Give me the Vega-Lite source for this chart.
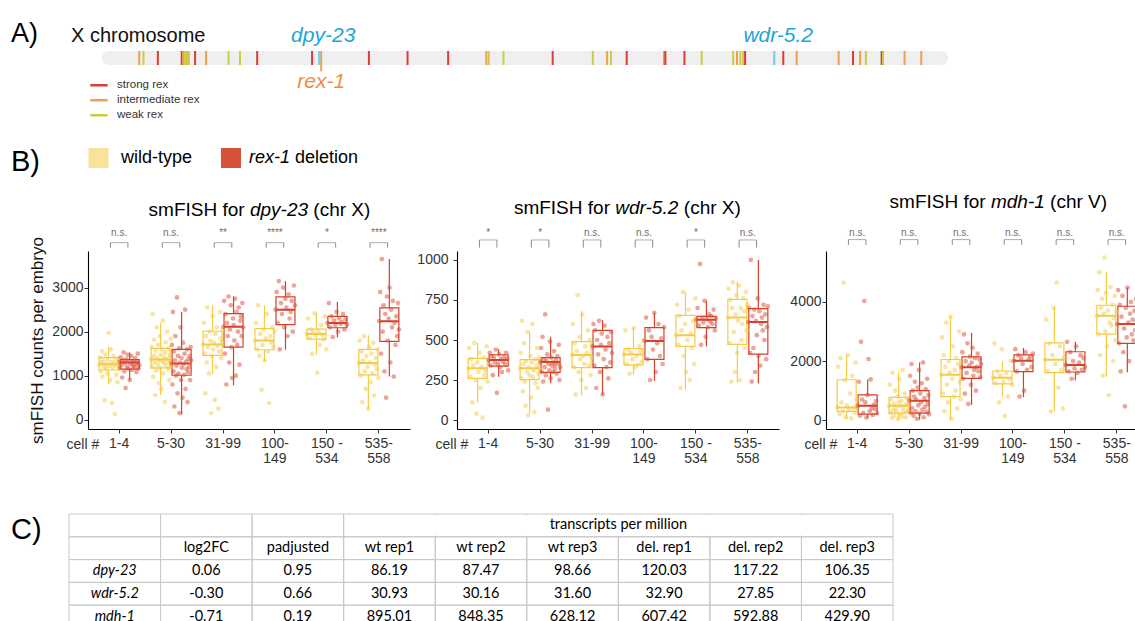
{
"$schema": "https://vega.github.io/schema/vega-lite/v6.json",
"padding": {"left": 10, "top": 19, "right": 0, "bottom": 0},
"background": "white",
"config": {"view": {"stroke": null}, "font": "Liberation Sans", "text": {"font": "Liberation Sans"}, "legend": {"labelFont": "Liberation Sans", "titleFont": "Liberation Sans"}},
"datasets": {
"panels": [{"p": "A)"}, {"p": "B)"}, {"p": "C)"}],
"legend": [{"t": "wt", "label": "wild-type", "rest": ""}, {"t": "del", "label": "rex-1", "rest": "deletion"}],
"chrom": [{"label": "X chromosome", "start": 0, "len": 17.72}],
"genes": [{"gene": "dpy-23", "pos": 4.55}, {"gene": "wdr-5.2", "pos": 14.08}],
"rex": [{"pos":0.78,"k":"intermediate"},{"pos":0.87,"k":"weak"},{"pos":1.17,"k":"strong"},{"pos":1.67,"k":"strong"},{"pos":1.70,"k":"intermediate"},{"pos":1.74,"k":"weak"},{"pos":1.78,"k":"weak"},{"pos":1.82,"k":"weak"},{"pos":1.95,"k":"strong"},{"pos":2.18,"k":"intermediate"},{"pos":2.65,"k":"weak"},{"pos":2.89,"k":"weak"},{"pos":3.25,"k":"strong"},{"pos":4.40,"k":"strong"},{"pos":4.59,"k":"intermediate","name":"rex-1"},{"pos":5.59,"k":"strong"},{"pos":6.40,"k":"strong"},{"pos":7.25,"k":"strong"},{"pos":8.05,"k":"intermediate"},{"pos":8.10,"k":"weak"},{"pos":8.41,"k":"weak"},{"pos":9.44,"k":"strong"},{"pos":10.28,"k":"weak"},{"pos":10.58,"k":"intermediate"},{"pos":10.66,"k":"weak"},{"pos":10.99,"k":"strong"},{"pos":11.77,"k":"intermediate"},{"pos":11.80,"k":"strong"},{"pos":12.20,"k":"strong"},{"pos":12.56,"k":"weak"},{"pos":13.22,"k":"weak"},{"pos":13.30,"k":"intermediate"},{"pos":13.37,"k":"weak"},{"pos":13.43,"k":"weak"},{"pos":13.47,"k":"strong"},{"pos":14.27,"k":"strong"},{"pos":14.55,"k":"intermediate"},{"pos":15.43,"k":"intermediate"},{"pos":15.73,"k":"strong"},{"pos":15.88,"k":"intermediate"},{"pos":16.00,"k":"weak"},{"pos":16.33,"k":"strong"},{"pos":16.36,"k":"weak"},{"pos":16.81,"k":"intermediate"},{"pos":17.16,"k":"intermediate"}],
"ttl": [{"g":"d","pre":"smFISH for","gene":"dpy-23","post":"(chr X)"},{"g":"w","pre":"smFISH for","gene":"wdr-5.2","post":"(chr X)"},{"g":"m","pre":"smFISH for","gene":"mdh-1","post":"(chr V)"}],
"sig": [{"g":"d","c":"1-4","s":"n.s."},{"g":"d","c":"5-30","s":"n.s."},{"g":"d","c":"31-99","s":"**"},{"g":"d","c":"100-149","s":"****"},{"g":"d","c":"150-534","s":"*"},{"g":"d","c":"535-558","s":"****"},
{"g":"w","c":"1-4","s":"*"},{"g":"w","c":"5-30","s":"*"},{"g":"w","c":"31-99","s":"n.s."},{"g":"w","c":"100-149","s":"n.s."},{"g":"w","c":"150-534","s":"*"},{"g":"w","c":"535-558","s":"n.s."},
{"g":"m","c":"1-4","s":"n.s."},{"g":"m","c":"5-30","s":"n.s."},{"g":"m","c":"31-99","s":"n.s."},{"g":"m","c":"100-149","s":"n.s."},{"g":"m","c":"150-534","s":"n.s."},{"g":"m","c":"535-558","s":"n.s."}],
"box": [
{"g":"d","c":"1-4","t":"wt","lo":800,"q1":1130,"md":1260,"q3":1410,"hi":1650},
{"g":"d","c":"1-4","t":"del","lo":900,"q1":1150,"md":1300,"q3":1365,"hi":1530},
{"g":"d","c":"5-30","t":"wt","lo":560,"q1":1180,"md":1370,"q3":1620,"hi":2200},
{"g":"d","c":"5-30","t":"del","lo":120,"q1":1010,"md":1280,"q3":1600,"hi":2450},
{"g":"d","c":"31-99","t":"wt","lo":1040,"q1":1460,"md":1710,"q3":2010,"hi":2600},
{"g":"d","c":"31-99","t":"del","lo":780,"q1":1650,"md":2110,"q3":2410,"hi":2800},
{"g":"d","c":"100-149","t":"wt","lo":1330,"q1":1590,"md":1800,"q3":2070,"hi":2600},
{"g":"d","c":"100-149","t":"del","lo":1590,"q1":2160,"md":2500,"q3":2790,"hi":3150},
{"g":"d","c":"150-534","t":"wt","lo":1480,"q1":1830,"md":1950,"q3":2060,"hi":2420},
{"g":"d","c":"150-534","t":"del","lo":1870,"q1":2090,"md":2200,"q3":2350,"hi":2680},
{"g":"d","c":"535-558","t":"wt","lo":250,"q1":1020,"md":1290,"q3":1600,"hi":1920},
{"g":"d","c":"535-558","t":"del","lo":980,"q1":1780,"md":2240,"q3":2540,"hi":3650},
{"g":"w","c":"1-4","t":"wt","lo":110,"q1":260,"md":323,"q3":385,"hi":483},
{"g":"w","c":"1-4","t":"del","lo":270,"q1":337,"md":375,"q3":408,"hi":442},
{"g":"w","c":"5-30","t":"wt","lo":40,"q1":252,"md":323,"q3":377,"hi":550},
{"g":"w","c":"5-30","t":"del","lo":230,"q1":298,"md":362,"q3":390,"hi":520},
{"g":"w","c":"31-99","t":"wt","lo":155,"q1":327,"md":406,"q3":490,"hi":680},
{"g":"w","c":"31-99","t":"del","lo":160,"q1":327,"md":460,"q3":560,"hi":625},
{"g":"w","c":"100-149","t":"wt","lo":285,"q1":344,"md":410,"q3":446,"hi":575},
{"g":"w","c":"100-149","t":"del","lo":245,"q1":379,"md":494,"q3":577,"hi":670},
{"g":"w","c":"150-534","t":"wt","lo":190,"q1":460,"md":529,"q3":654,"hi":800},
{"g":"w","c":"150-534","t":"del","lo":460,"q1":577,"md":627,"q3":648,"hi":745},
{"g":"w","c":"535-558","t":"wt","lo":235,"q1":473,"md":640,"q3":754,"hi":865},
{"g":"w","c":"535-558","t":"del","lo":230,"q1":412,"md":612,"q3":696,"hi":1000},
{"g":"m","c":"1-4","t":"wt","lo":50,"q1":296,"md":433,"q3":1368,"hi":2200},
{"g":"m","c":"1-4","t":"del","lo":70,"q1":205,"md":490,"q3":855,"hi":1380},
{"g":"m","c":"5-30","t":"wt","lo":30,"q1":239,"md":490,"q3":775,"hi":1650},
{"g":"m","c":"5-30","t":"del","lo":20,"q1":239,"md":661,"q3":1003,"hi":1950},
{"g":"m","c":"31-99","t":"wt","lo":0,"q1":798,"md":1539,"q3":2052,"hi":3530},
{"g":"m","c":"31-99","t":"del","lo":520,"q1":1414,"md":1790,"q3":2143,"hi":2950},
{"g":"m","c":"100-149","t":"wt","lo":800,"q1":1231,"md":1436,"q3":1664,"hi":2000},
{"g":"m","c":"100-149","t":"del","lo":780,"q1":1642,"md":2006,"q3":2212,"hi":2440},
{"g":"m","c":"150-534","t":"wt","lo":300,"q1":1607,"md":2041,"q3":2611,"hi":3820},
{"g":"m","c":"150-534","t":"del","lo":1350,"q1":1630,"md":1870,"q3":2314,"hi":2650},
{"g":"m","c":"535-558","t":"wt","lo":1480,"q1":2907,"md":3534,"q3":3887,"hi":5000},
{"g":"m","c":"535-558","t":"del","lo":1620,"q1":2599,"md":3249,"q3":3853,"hi":4480}
],
"pts": [
{"g":"d","c":"1-4","t":"wt","v":1250},{"g":"d","c":"1-4","t":"wt","v":1420},{"g":"d","c":"1-4","t":"wt","v":1100},{"g":"d","c":"1-4","t":"wt","v":1300},{"g":"d","c":"1-4","t":"wt","v":1560},{"g":"d","c":"1-4","t":"wt","v":980},{"g":"d","c":"1-4","t":"wt","v":1340},{"g":"d","c":"1-4","t":"wt","v":1200},{"g":"d","c":"1-4","t":"wt","v":440},{"g":"d","c":"1-4","t":"wt","v":1480},{"g":"d","c":"1-4","t":"wt","v":1160},{"g":"d","c":"1-4","t":"wt","v":1280},{"g":"d","c":"1-4","t":"wt","v":1050},{"g":"d","c":"1-4","t":"wt","v":1380},{"g":"d","c":"1-4","t":"wt","v":1970},{"g":"d","c":"1-4","t":"wt","v":1220},{"g":"d","c":"1-4","t":"wt","v":900},{"g":"d","c":"1-4","t":"wt","v":1600},{"g":"d","c":"1-4","t":"wt","v":1310},{"g":"d","c":"1-4","t":"wt","v":380},{"g":"d","c":"1-4","t":"wt","v":1180},{"g":"d","c":"1-4","t":"wt","v":1450},{"g":"d","c":"1-4","t":"wt","v":1270},{"g":"d","c":"1-4","t":"wt","v":130},{"g":"d","c":"1-4","t":"wt","v":1350},{"g":"d","c":"1-4","t":"wt","v":1020},{"g":"d","c":"1-4","t":"wt","v":1240},{"g":"d","c":"1-4","t":"wt","v":850},{"g":"d","c":"1-4","t":"wt","v":1400},{"g":"d","c":"1-4","t":"wt","v":1150},
{"g":"d","c":"1-4","t":"del","v":1310},{"g":"d","c":"1-4","t":"del","v":1180},{"g":"d","c":"1-4","t":"del","v":1420},{"g":"d","c":"1-4","t":"del","v":1250},{"g":"d","c":"1-4","t":"del","v":960},{"g":"d","c":"1-4","t":"del","v":1350},{"g":"d","c":"1-4","t":"del","v":1530},{"g":"d","c":"1-4","t":"del","v":1100},{"g":"d","c":"1-4","t":"del","v":1290},{"g":"d","c":"1-4","t":"del","v":720},{"g":"d","c":"1-4","t":"del","v":1380},{"g":"d","c":"1-4","t":"del","v":1200},{"g":"d","c":"1-4","t":"del","v":1480},{"g":"d","c":"1-4","t":"del","v":1160},{"g":"d","c":"1-4","t":"del","v":1330},{"g":"d","c":"1-4","t":"del","v":900},{"g":"d","c":"1-4","t":"del","v":1270},{"g":"d","c":"1-4","t":"del","v":1450},{"g":"d","c":"1-4","t":"del","v":1130},{"g":"d","c":"1-4","t":"del","v":1300},{"g":"d","c":"1-4","t":"del","v":1220},{"g":"d","c":"1-4","t":"del","v":1340},{"g":"d","c":"1-4","t":"del","v":1190},{"g":"d","c":"1-4","t":"del","v":1400},{"g":"d","c":"1-4","t":"del","v":1260},{"g":"d","c":"1-4","t":"del","v":1080},{"g":"d","c":"1-4","t":"del","v":1310},{"g":"d","c":"1-4","t":"del","v":1500},{"g":"d","c":"1-4","t":"del","v":1170},{"g":"d","c":"1-4","t":"del","v":1240},
{"g":"d","c":"5-30","t":"wt","v":1370},{"g":"d","c":"5-30","t":"wt","v":1650},{"g":"d","c":"5-30","t":"wt","v":1200},{"g":"d","c":"5-30","t":"wt","v":2400},{"g":"d","c":"5-30","t":"wt","v":980},{"g":"d","c":"5-30","t":"wt","v":1450},{"g":"d","c":"5-30","t":"wt","v":1820},{"g":"d","c":"5-30","t":"wt","v":1300},{"g":"d","c":"5-30","t":"wt","v":560},{"g":"d","c":"5-30","t":"wt","v":1560},{"g":"d","c":"5-30","t":"wt","v":1120},{"g":"d","c":"5-30","t":"wt","v":2100},{"g":"d","c":"5-30","t":"wt","v":1400},{"g":"d","c":"5-30","t":"wt","v":1250},{"g":"d","c":"5-30","t":"wt","v":1700},{"g":"d","c":"5-30","t":"wt","v":830},{"g":"d","c":"5-30","t":"wt","v":1350},{"g":"d","c":"5-30","t":"wt","v":1900},{"g":"d","c":"5-30","t":"wt","v":1180},{"g":"d","c":"5-30","t":"wt","v":1480},{"g":"d","c":"5-30","t":"wt","v":700},{"g":"d","c":"5-30","t":"wt","v":1600},{"g":"d","c":"5-30","t":"wt","v":1330},{"g":"d","c":"5-30","t":"wt","v":2250},{"g":"d","c":"5-30","t":"wt","v":1050},{"g":"d","c":"5-30","t":"wt","v":1420},{"g":"d","c":"5-30","t":"wt","v":1280},{"g":"d","c":"5-30","t":"wt","v":400},{"g":"d","c":"5-30","t":"wt","v":1530},{"g":"d","c":"5-30","t":"wt","v":1760},{"g":"d","c":"5-30","t":"wt","v":1230},{"g":"d","c":"5-30","t":"wt","v":1380},{"g":"d","c":"5-30","t":"wt","v":2000},{"g":"d","c":"5-30","t":"wt","v":1150},{"g":"d","c":"5-30","t":"wt","v":1620},{"g":"d","c":"5-30","t":"wt","v":1310},{"g":"d","c":"5-30","t":"wt","v":900},{"g":"d","c":"5-30","t":"wt","v":1470},{"g":"d","c":"5-30","t":"wt","v":1200},{"g":"d","c":"5-30","t":"wt","v":1840},
{"g":"d","c":"5-30","t":"del","v":1280},{"g":"d","c":"5-30","t":"del","v":1700},{"g":"d","c":"5-30","t":"del","v":800},{"g":"d","c":"5-30","t":"del","v":2450},{"g":"d","c":"5-30","t":"del","v":1100},{"g":"d","c":"5-30","t":"del","v":1550},{"g":"d","c":"5-30","t":"del","v":300},{"g":"d","c":"5-30","t":"del","v":1350},{"g":"d","c":"5-30","t":"del","v":1900},{"g":"d","c":"5-30","t":"del","v":1000},{"g":"d","c":"5-30","t":"del","v":1230},{"g":"d","c":"5-30","t":"del","v":2780},{"g":"d","c":"5-30","t":"del","v":600},{"g":"d","c":"5-30","t":"del","v":1450},{"g":"d","c":"5-30","t":"del","v":1050},{"g":"d","c":"5-30","t":"del","v":1620},{"g":"d","c":"5-30","t":"del","v":150},{"g":"d","c":"5-30","t":"del","v":1300},{"g":"d","c":"5-30","t":"del","v":2100},{"g":"d","c":"5-30","t":"del","v":900},{"g":"d","c":"5-30","t":"del","v":1400},{"g":"d","c":"5-30","t":"del","v":1180},{"g":"d","c":"5-30","t":"del","v":500},{"g":"d","c":"5-30","t":"del","v":1750},{"g":"d","c":"5-30","t":"del","v":1260},{"g":"d","c":"5-30","t":"del","v":1020},{"g":"d","c":"5-30","t":"del","v":1500},{"g":"d","c":"5-30","t":"del","v":2500},{"g":"d","c":"5-30","t":"del","v":700},{"g":"d","c":"5-30","t":"del","v":1320},{"g":"d","c":"5-30","t":"del","v":1150},{"g":"d","c":"5-30","t":"del","v":1600},{"g":"d","c":"5-30","t":"del","v":400},{"g":"d","c":"5-30","t":"del","v":1080},{"g":"d","c":"5-30","t":"del","v":1380},{"g":"d","c":"5-30","t":"del","v":1200},{"g":"d","c":"5-30","t":"del","v":1450},{"g":"d","c":"5-30","t":"del","v":900},{"g":"d","c":"5-30","t":"del","v":1650},{"g":"d","c":"5-30","t":"del","v":1350},
{"g":"d","c":"31-99","t":"wt","v":1710},{"g":"d","c":"31-99","t":"wt","v":2200},{"g":"d","c":"31-99","t":"wt","v":1500},{"g":"d","c":"31-99","t":"wt","v":600},{"g":"d","c":"31-99","t":"wt","v":1900},{"g":"d","c":"31-99","t":"wt","v":1300},{"g":"d","c":"31-99","t":"wt","v":2550},{"g":"d","c":"31-99","t":"wt","v":1650},{"g":"d","c":"31-99","t":"wt","v":1050},{"g":"d","c":"31-99","t":"wt","v":2000},{"g":"d","c":"31-99","t":"wt","v":1800},{"g":"d","c":"31-99","t":"wt","v":150},{"g":"d","c":"31-99","t":"wt","v":1450},{"g":"d","c":"31-99","t":"wt","v":2350},{"g":"d","c":"31-99","t":"wt","v":1600},{"g":"d","c":"31-99","t":"wt","v":1750},{"g":"d","c":"31-99","t":"wt","v":450},{"g":"d","c":"31-99","t":"wt","v":1950},{"g":"d","c":"31-99","t":"wt","v":1200},{"g":"d","c":"31-99","t":"wt","v":2100},{"g":"d","c":"31-99","t":"wt","v":1680},{"g":"d","c":"31-99","t":"wt","v":250},{"g":"d","c":"31-99","t":"wt","v":1550},{"g":"d","c":"31-99","t":"wt","v":2450},{"g":"d","c":"31-99","t":"wt","v":1850},{"g":"d","c":"31-99","t":"wt","v":1400},{"g":"d","c":"31-99","t":"wt","v":1760},{"g":"d","c":"31-99","t":"wt","v":2050},
{"g":"d","c":"31-99","t":"del","v":2110},{"g":"d","c":"31-99","t":"del","v":2700},{"g":"d","c":"31-99","t":"del","v":1500},{"g":"d","c":"31-99","t":"del","v":2400},{"g":"d","c":"31-99","t":"del","v":800},{"g":"d","c":"31-99","t":"del","v":2200},{"g":"d","c":"31-99","t":"del","v":1900},{"g":"d","c":"31-99","t":"del","v":2800},{"g":"d","c":"31-99","t":"del","v":1300},{"g":"d","c":"31-99","t":"del","v":2050},{"g":"d","c":"31-99","t":"del","v":2600},{"g":"d","c":"31-99","t":"del","v":1650},{"g":"d","c":"31-99","t":"del","v":950},{"g":"d","c":"31-99","t":"del","v":2300},{"g":"d","c":"31-99","t":"del","v":2150},{"g":"d","c":"31-99","t":"del","v":1800},{"g":"d","c":"31-99","t":"del","v":2750},{"g":"d","c":"31-99","t":"del","v":1000},{"g":"d","c":"31-99","t":"del","v":2450},{"g":"d","c":"31-99","t":"del","v":1700},{"g":"d","c":"31-99","t":"del","v":2000},{"g":"d","c":"31-99","t":"del","v":2550},{"g":"d","c":"31-99","t":"del","v":1250},{"g":"d","c":"31-99","t":"del","v":2250},{"g":"d","c":"31-99","t":"del","v":2350},{"g":"d","c":"31-99","t":"del","v":1900},{"g":"d","c":"31-99","t":"del","v":2650},{"g":"d","c":"31-99","t":"del","v":2100},
{"g":"d","c":"100-149","t":"wt","v":1800},{"g":"d","c":"100-149","t":"wt","v":2200},{"g":"d","c":"100-149","t":"wt","v":1600},{"g":"d","c":"100-149","t":"wt","v":2600},{"g":"d","c":"100-149","t":"wt","v":1450},{"g":"d","c":"100-149","t":"wt","v":1950},{"g":"d","c":"100-149","t":"wt","v":680},{"g":"d","c":"100-149","t":"wt","v":1700},{"g":"d","c":"100-149","t":"wt","v":2050},{"g":"d","c":"100-149","t":"wt","v":1350},{"g":"d","c":"100-149","t":"wt","v":1850},{"g":"d","c":"100-149","t":"wt","v":2400},{"g":"d","c":"100-149","t":"wt","v":1550},{"g":"d","c":"100-149","t":"wt","v":380},{"g":"d","c":"100-149","t":"wt","v":1900},{"g":"d","c":"100-149","t":"wt","v":1750},{"g":"d","c":"100-149","t":"wt","v":2100},{"g":"d","c":"100-149","t":"wt","v":1650},{"g":"d","c":"100-149","t":"wt","v":2000},
{"g":"d","c":"100-149","t":"del","v":2500},{"g":"d","c":"100-149","t":"del","v":2900},{"g":"d","c":"100-149","t":"del","v":2200},{"g":"d","c":"100-149","t":"del","v":3150},{"g":"d","c":"100-149","t":"del","v":1600},{"g":"d","c":"100-149","t":"del","v":2650},{"g":"d","c":"100-149","t":"del","v":2400},{"g":"d","c":"100-149","t":"del","v":3000},{"g":"d","c":"100-149","t":"del","v":2100},{"g":"d","c":"100-149","t":"del","v":2750},{"g":"d","c":"100-149","t":"del","v":2550},{"g":"d","c":"100-149","t":"del","v":1900},{"g":"d","c":"100-149","t":"del","v":2850},{"g":"d","c":"100-149","t":"del","v":2300},{"g":"d","c":"100-149","t":"del","v":2450},{"g":"d","c":"100-149","t":"del","v":2700},{"g":"d","c":"100-149","t":"del","v":2000},{"g":"d","c":"100-149","t":"del","v":3050},{"g":"d","c":"100-149","t":"del","v":2600},
{"g":"d","c":"150-534","t":"wt","v":1950},{"g":"d","c":"150-534","t":"wt","v":2300},{"g":"d","c":"150-534","t":"wt","v":1850},{"g":"d","c":"150-534","t":"wt","v":2050},{"g":"d","c":"150-534","t":"wt","v":1500},{"g":"d","c":"150-534","t":"wt","v":1980},{"g":"d","c":"150-534","t":"wt","v":2420},{"g":"d","c":"150-534","t":"wt","v":1900},{"g":"d","c":"150-534","t":"wt","v":1070},{"g":"d","c":"150-534","t":"wt","v":2000},{"g":"d","c":"150-534","t":"wt","v":1700},{"g":"d","c":"150-534","t":"wt","v":2150},{"g":"d","c":"150-534","t":"wt","v":1930},{"g":"d","c":"150-534","t":"wt","v":1820},{"g":"d","c":"150-534","t":"wt","v":2350},{"g":"d","c":"150-534","t":"wt","v":1600},
{"g":"d","c":"150-534","t":"del","v":2200},{"g":"d","c":"150-534","t":"del","v":2650},{"g":"d","c":"150-534","t":"del","v":2100},{"g":"d","c":"150-534","t":"del","v":2350},{"g":"d","c":"150-534","t":"del","v":1880},{"g":"d","c":"150-534","t":"del","v":2250},{"g":"d","c":"150-534","t":"del","v":2150},{"g":"d","c":"150-534","t":"del","v":2450},{"g":"d","c":"150-534","t":"del","v":2000},{"g":"d","c":"150-534","t":"del","v":2300},{"g":"d","c":"150-534","t":"del","v":2180},{"g":"d","c":"150-534","t":"del","v":2220},{"g":"d","c":"150-534","t":"del","v":2400},{"g":"d","c":"150-534","t":"del","v":2050},{"g":"d","c":"150-534","t":"del","v":2280},{"g":"d","c":"150-534","t":"del","v":2160},
{"g":"d","c":"535-558","t":"wt","v":1290},{"g":"d","c":"535-558","t":"wt","v":1800},{"g":"d","c":"535-558","t":"wt","v":1000},{"g":"d","c":"535-558","t":"wt","v":1550},{"g":"d","c":"535-558","t":"wt","v":400},{"g":"d","c":"535-558","t":"wt","v":1350},{"g":"d","c":"535-558","t":"wt","v":1900},{"g":"d","c":"535-558","t":"wt","v":1100},{"g":"d","c":"535-558","t":"wt","v":700},{"g":"d","c":"535-558","t":"wt","v":1450},{"g":"d","c":"535-558","t":"wt","v":1200},{"g":"d","c":"535-558","t":"wt","v":250},{"g":"d","c":"535-558","t":"wt","v":1650},{"g":"d","c":"535-558","t":"wt","v":1300},{"g":"d","c":"535-558","t":"wt","v":850},{"g":"d","c":"535-558","t":"wt","v":1500},{"g":"d","c":"535-558","t":"wt","v":1050},{"g":"d","c":"535-558","t":"wt","v":1750},{"g":"d","c":"535-558","t":"wt","v":550},{"g":"d","c":"535-558","t":"wt","v":1250},{"g":"d","c":"535-558","t":"wt","v":1400},{"g":"d","c":"535-558","t":"wt","v":1150},{"g":"d","c":"535-558","t":"wt","v":1600},{"g":"d","c":"535-558","t":"wt","v":950},
{"g":"d","c":"535-558","t":"del","v":2240},{"g":"d","c":"535-558","t":"del","v":2900},{"g":"d","c":"535-558","t":"del","v":1500},{"g":"d","c":"535-558","t":"del","v":3650},{"g":"d","c":"535-558","t":"del","v":2000},{"g":"d","c":"535-558","t":"del","v":2600},{"g":"d","c":"535-558","t":"del","v":1100},{"g":"d","c":"535-558","t":"del","v":2400},{"g":"d","c":"535-558","t":"del","v":500},{"g":"d","c":"535-558","t":"del","v":2800},{"g":"d","c":"535-558","t":"del","v":1800},{"g":"d","c":"535-558","t":"del","v":2300},{"g":"d","c":"535-558","t":"del","v":3000},{"g":"d","c":"535-558","t":"del","v":1300},{"g":"d","c":"535-558","t":"del","v":2500},{"g":"d","c":"535-558","t":"del","v":2100},{"g":"d","c":"535-558","t":"del","v":2700},{"g":"d","c":"535-558","t":"del","v":980},{"g":"d","c":"535-558","t":"del","v":2200},{"g":"d","c":"535-558","t":"del","v":1700},{"g":"d","c":"535-558","t":"del","v":2350},{"g":"d","c":"535-558","t":"del","v":1900},{"g":"d","c":"535-558","t":"del","v":2650},{"g":"d","c":"535-558","t":"del","v":2050},
{"g":"w","c":"1-4","t":"wt","v":323},{"g":"w","c":"1-4","t":"wt","v":450},{"g":"w","c":"1-4","t":"wt","v":270},{"g":"w","c":"1-4","t":"wt","v":380},{"g":"w","c":"1-4","t":"wt","v":110},{"g":"w","c":"1-4","t":"wt","v":340},{"g":"w","c":"1-4","t":"wt","v":480},{"g":"w","c":"1-4","t":"wt","v":250},{"g":"w","c":"1-4","t":"wt","v":40},{"g":"w","c":"1-4","t":"wt","v":360},{"g":"w","c":"1-4","t":"wt","v":300},{"g":"w","c":"1-4","t":"wt","v":420},{"g":"w","c":"1-4","t":"wt","v":200},{"g":"w","c":"1-4","t":"wt","v":330},{"g":"w","c":"1-4","t":"wt","v":15},{"g":"w","c":"1-4","t":"wt","v":390},{"g":"w","c":"1-4","t":"wt","v":280},{"g":"w","c":"1-4","t":"wt","v":310},{"g":"w","c":"1-4","t":"wt","v":460},{"g":"w","c":"1-4","t":"wt","v":240},
{"g":"w","c":"1-4","t":"del","v":375},{"g":"w","c":"1-4","t":"del","v":420},{"g":"w","c":"1-4","t":"del","v":340},{"g":"w","c":"1-4","t":"del","v":400},{"g":"w","c":"1-4","t":"del","v":280},{"g":"w","c":"1-4","t":"del","v":390},{"g":"w","c":"1-4","t":"del","v":360},{"g":"w","c":"1-4","t":"del","v":440},{"g":"w","c":"1-4","t":"del","v":170},{"g":"w","c":"1-4","t":"del","v":350},{"g":"w","c":"1-4","t":"del","v":410},{"g":"w","c":"1-4","t":"del","v":330},{"g":"w","c":"1-4","t":"del","v":380},{"g":"w","c":"1-4","t":"del","v":300},{"g":"w","c":"1-4","t":"del","v":365},{"g":"w","c":"1-4","t":"del","v":395},{"g":"w","c":"1-4","t":"del","v":350},{"g":"w","c":"1-4","t":"del","v":420},{"g":"w","c":"1-4","t":"del","v":385},{"g":"w","c":"1-4","t":"del","v":310},
{"g":"w","c":"5-30","t":"wt","v":323},{"g":"w","c":"5-30","t":"wt","v":420},{"g":"w","c":"5-30","t":"wt","v":260},{"g":"w","c":"5-30","t":"wt","v":620},{"g":"w","c":"5-30","t":"wt","v":180},{"g":"w","c":"5-30","t":"wt","v":350},{"g":"w","c":"5-30","t":"wt","v":480},{"g":"w","c":"5-30","t":"wt","v":240},{"g":"w","c":"5-30","t":"wt","v":90},{"g":"w","c":"5-30","t":"wt","v":370},{"g":"w","c":"5-30","t":"wt","v":300},{"g":"w","c":"5-30","t":"wt","v":550},{"g":"w","c":"5-30","t":"wt","v":30},{"g":"w","c":"5-30","t":"wt","v":330},{"g":"w","c":"5-30","t":"wt","v":280},{"g":"w","c":"5-30","t":"wt","v":400},{"g":"w","c":"5-30","t":"wt","v":140},{"g":"w","c":"5-30","t":"wt","v":360},{"g":"w","c":"5-30","t":"wt","v":600},{"g":"w","c":"5-30","t":"wt","v":270},{"g":"w","c":"5-30","t":"wt","v":310},{"g":"w","c":"5-30","t":"wt","v":50},{"g":"w","c":"5-30","t":"wt","v":380},{"g":"w","c":"5-30","t":"wt","v":230},{"g":"w","c":"5-30","t":"wt","v":340},{"g":"w","c":"5-30","t":"wt","v":450},{"g":"w","c":"5-30","t":"wt","v":200},{"g":"w","c":"5-30","t":"wt","v":290},{"g":"w","c":"5-30","t":"wt","v":390},{"g":"w","c":"5-30","t":"wt","v":320},
{"g":"w","c":"5-30","t":"del","v":362},{"g":"w","c":"5-30","t":"del","v":450},{"g":"w","c":"5-30","t":"del","v":300},{"g":"w","c":"5-30","t":"del","v":520},{"g":"w","c":"5-30","t":"del","v":240},{"g":"w","c":"5-30","t":"del","v":380},{"g":"w","c":"5-30","t":"del","v":330},{"g":"w","c":"5-30","t":"del","v":660},{"g":"w","c":"5-30","t":"del","v":280},{"g":"w","c":"5-30","t":"del","v":370},{"g":"w","c":"5-30","t":"del","v":410},{"g":"w","c":"5-30","t":"del","v":65},{"g":"w","c":"5-30","t":"del","v":350},{"g":"w","c":"5-30","t":"del","v":310},{"g":"w","c":"5-30","t":"del","v":490},{"g":"w","c":"5-30","t":"del","v":260},{"g":"w","c":"5-30","t":"del","v":390},{"g":"w","c":"5-30","t":"del","v":340},{"g":"w","c":"5-30","t":"del","v":360},{"g":"w","c":"5-30","t":"del","v":300},{"g":"w","c":"5-30","t":"del","v":430},{"g":"w","c":"5-30","t":"del","v":320},{"g":"w","c":"5-30","t":"del","v":345},{"g":"w","c":"5-30","t":"del","v":375},{"g":"w","c":"5-30","t":"del","v":290},{"g":"w","c":"5-30","t":"del","v":400},{"g":"w","c":"5-30","t":"del","v":355},{"g":"w","c":"5-30","t":"del","v":470},{"g":"w","c":"5-30","t":"del","v":250},{"g":"w","c":"5-30","t":"del","v":330},
{"g":"w","c":"31-99","t":"wt","v":406},{"g":"w","c":"31-99","t":"wt","v":600},{"g":"w","c":"31-99","t":"wt","v":330},{"g":"w","c":"31-99","t":"wt","v":480},{"g":"w","c":"31-99","t":"wt","v":160},{"g":"w","c":"31-99","t":"wt","v":430},{"g":"w","c":"31-99","t":"wt","v":780},{"g":"w","c":"31-99","t":"wt","v":300},{"g":"w","c":"31-99","t":"wt","v":520},{"g":"w","c":"31-99","t":"wt","v":380},{"g":"w","c":"31-99","t":"wt","v":250},{"g":"w","c":"31-99","t":"wt","v":660},{"g":"w","c":"31-99","t":"wt","v":400},{"g":"w","c":"31-99","t":"wt","v":350},{"g":"w","c":"31-99","t":"wt","v":460},{"g":"w","c":"31-99","t":"wt","v":200},{"g":"w","c":"31-99","t":"wt","v":420},{"g":"w","c":"31-99","t":"wt","v":560},{"g":"w","c":"31-99","t":"wt","v":340},{"g":"w","c":"31-99","t":"wt","v":500},{"g":"w","c":"31-99","t":"wt","v":280},{"g":"w","c":"31-99","t":"wt","v":390},
{"g":"w","c":"31-99","t":"del","v":460},{"g":"w","c":"31-99","t":"del","v":600},{"g":"w","c":"31-99","t":"del","v":340},{"g":"w","c":"31-99","t":"del","v":560},{"g":"w","c":"31-99","t":"del","v":200},{"g":"w","c":"31-99","t":"del","v":500},{"g":"w","c":"31-99","t":"del","v":410},{"g":"w","c":"31-99","t":"del","v":620},{"g":"w","c":"31-99","t":"del","v":300},{"g":"w","c":"31-99","t":"del","v":470},{"g":"w","c":"31-99","t":"del","v":540},{"g":"w","c":"31-99","t":"del","v":160},{"g":"w","c":"31-99","t":"del","v":380},{"g":"w","c":"31-99","t":"del","v":590},{"g":"w","c":"31-99","t":"del","v":440},{"g":"w","c":"31-99","t":"del","v":330},{"g":"w","c":"31-99","t":"del","v":520},{"g":"w","c":"31-99","t":"del","v":260},{"g":"w","c":"31-99","t":"del","v":480},{"g":"w","c":"31-99","t":"del","v":360},{"g":"w","c":"31-99","t":"del","v":550},{"g":"w","c":"31-99","t":"del","v":420},
{"g":"w","c":"100-149","t":"wt","v":410},{"g":"w","c":"100-149","t":"wt","v":560},{"g":"w","c":"100-149","t":"wt","v":350},{"g":"w","c":"100-149","t":"wt","v":440},{"g":"w","c":"100-149","t":"wt","v":290},{"g":"w","c":"100-149","t":"wt","v":420},{"g":"w","c":"100-149","t":"wt","v":380},{"g":"w","c":"100-149","t":"wt","v":575},{"g":"w","c":"100-149","t":"wt","v":330},{"g":"w","c":"100-149","t":"wt","v":400},{"g":"w","c":"100-149","t":"wt","v":345},{"g":"w","c":"100-149","t":"wt","v":460},{"g":"w","c":"100-149","t":"wt","v":430},{"g":"w","c":"100-149","t":"wt","v":365},{"g":"w","c":"100-149","t":"wt","v":500},
{"g":"w","c":"100-149","t":"del","v":494},{"g":"w","c":"100-149","t":"del","v":640},{"g":"w","c":"100-149","t":"del","v":380},{"g":"w","c":"100-149","t":"del","v":560},{"g":"w","c":"100-149","t":"del","v":250},{"g":"w","c":"100-149","t":"del","v":520},{"g":"w","c":"100-149","t":"del","v":440},{"g":"w","c":"100-149","t":"del","v":670},{"g":"w","c":"100-149","t":"del","v":300},{"g":"w","c":"100-149","t":"del","v":480},{"g":"w","c":"100-149","t":"del","v":600},{"g":"w","c":"100-149","t":"del","v":400},{"g":"w","c":"100-149","t":"del","v":510},{"g":"w","c":"100-149","t":"del","v":350},{"g":"w","c":"100-149","t":"del","v":580},
{"g":"w","c":"150-534","t":"wt","v":529},{"g":"w","c":"150-534","t":"wt","v":720},{"g":"w","c":"150-534","t":"wt","v":470},{"g":"w","c":"150-534","t":"wt","v":650},{"g":"w","c":"150-534","t":"wt","v":200},{"g":"w","c":"150-534","t":"wt","v":560},{"g":"w","c":"150-534","t":"wt","v":800},{"g":"w","c":"150-534","t":"wt","v":400},{"g":"w","c":"150-534","t":"wt","v":600},{"g":"w","c":"150-534","t":"wt","v":300},{"g":"w","c":"150-534","t":"wt","v":500},{"g":"w","c":"150-534","t":"wt","v":690},{"g":"w","c":"150-534","t":"wt","v":250},{"g":"w","c":"150-534","t":"wt","v":540},{"g":"w","c":"150-534","t":"wt","v":450},{"g":"w","c":"150-534","t":"wt","v":620},{"g":"w","c":"150-534","t":"wt","v":350},{"g":"w","c":"150-534","t":"wt","v":760},
{"g":"w","c":"150-534","t":"del","v":627},{"g":"w","c":"150-534","t":"del","v":700},{"g":"w","c":"150-534","t":"del","v":590},{"g":"w","c":"150-534","t":"del","v":975},{"g":"w","c":"150-534","t":"del","v":470},{"g":"w","c":"150-534","t":"del","v":640},{"g":"w","c":"150-534","t":"del","v":610},{"g":"w","c":"150-534","t":"del","v":745},{"g":"w","c":"150-534","t":"del","v":520},{"g":"w","c":"150-534","t":"del","v":630},{"g":"w","c":"150-534","t":"del","v":580},{"g":"w","c":"150-534","t":"del","v":660},{"g":"w","c":"150-534","t":"del","v":615},{"g":"w","c":"150-534","t":"del","v":650},{"g":"w","c":"150-534","t":"del","v":600},{"g":"w","c":"150-534","t":"del","v":690},{"g":"w","c":"150-534","t":"del","v":560},{"g":"w","c":"150-534","t":"del","v":635},
{"g":"w","c":"535-558","t":"wt","v":640},{"g":"w","c":"535-558","t":"wt","v":820},{"g":"w","c":"535-558","t":"wt","v":480},{"g":"w","c":"535-558","t":"wt","v":750},{"g":"w","c":"535-558","t":"wt","v":240},{"g":"w","c":"535-558","t":"wt","v":700},{"g":"w","c":"535-558","t":"wt","v":860},{"g":"w","c":"535-558","t":"wt","v":550},{"g":"w","c":"535-558","t":"wt","v":300},{"g":"w","c":"535-558","t":"wt","v":660},{"g":"w","c":"535-558","t":"wt","v":780},{"g":"w","c":"535-558","t":"wt","v":420},{"g":"w","c":"535-558","t":"wt","v":620},{"g":"w","c":"535-558","t":"wt","v":840},{"g":"w","c":"535-558","t":"wt","v":250},{"g":"w","c":"535-558","t":"wt","v":700},{"g":"w","c":"535-558","t":"wt","v":500},{"g":"w","c":"535-558","t":"wt","v":600},{"g":"w","c":"535-558","t":"wt","v":760},{"g":"w","c":"535-558","t":"wt","v":680},{"g":"w","c":"535-558","t":"wt","v":450},{"g":"w","c":"535-558","t":"wt","v":800},{"g":"w","c":"535-558","t":"wt","v":560},{"g":"w","c":"535-558","t":"wt","v":720},
{"g":"w","c":"535-558","t":"del","v":612},{"g":"w","c":"535-558","t":"del","v":700},{"g":"w","c":"535-558","t":"del","v":420},{"g":"w","c":"535-558","t":"del","v":1000},{"g":"w","c":"535-558","t":"del","v":240},{"g":"w","c":"535-558","t":"del","v":650},{"g":"w","c":"535-558","t":"del","v":450},{"g":"w","c":"535-558","t":"del","v":690},{"g":"w","c":"535-558","t":"del","v":300},{"g":"w","c":"535-558","t":"del","v":620},{"g":"w","c":"535-558","t":"del","v":530},{"g":"w","c":"535-558","t":"del","v":760},{"g":"w","c":"535-558","t":"del","v":400},{"g":"w","c":"535-558","t":"del","v":680},{"g":"w","c":"535-558","t":"del","v":340},{"g":"w","c":"535-558","t":"del","v":600},{"g":"w","c":"535-558","t":"del","v":640},{"g":"w","c":"535-558","t":"del","v":560},{"g":"w","c":"535-558","t":"del","v":720},{"g":"w","c":"535-558","t":"del","v":500},{"g":"w","c":"535-558","t":"del","v":660},{"g":"w","c":"535-558","t":"del","v":380},{"g":"w","c":"535-558","t":"del","v":580},{"g":"w","c":"535-558","t":"del","v":710},
{"g":"m","c":"1-4","t":"wt","v":433},{"g":"m","c":"1-4","t":"wt","v":1800},{"g":"m","c":"1-4","t":"wt","v":200},{"g":"m","c":"1-4","t":"wt","v":2100},{"g":"m","c":"1-4","t":"wt","v":600},{"g":"m","c":"1-4","t":"wt","v":300},{"g":"m","c":"1-4","t":"wt","v":4650},{"g":"m","c":"1-4","t":"wt","v":1350},{"g":"m","c":"1-4","t":"wt","v":100},{"g":"m","c":"1-4","t":"wt","v":500},{"g":"m","c":"1-4","t":"wt","v":2200},{"g":"m","c":"1-4","t":"wt","v":350},{"g":"m","c":"1-4","t":"wt","v":900},{"g":"m","c":"1-4","t":"wt","v":60},{"g":"m","c":"1-4","t":"wt","v":1500},{"g":"m","c":"1-4","t":"wt","v":420},{"g":"m","c":"1-4","t":"wt","v":250},{"g":"m","c":"1-4","t":"wt","v":1950},{"g":"m","c":"1-4","t":"wt","v":700},
{"g":"m","c":"1-4","t":"del","v":490},{"g":"m","c":"1-4","t":"del","v":1300},{"g":"m","c":"1-4","t":"del","v":150},{"g":"m","c":"1-4","t":"del","v":2650},{"g":"m","c":"1-4","t":"del","v":700},{"g":"m","c":"1-4","t":"del","v":250},{"g":"m","c":"1-4","t":"del","v":4030},{"g":"m","c":"1-4","t":"del","v":600},{"g":"m","c":"1-4","t":"del","v":90},{"g":"m","c":"1-4","t":"del","v":850},{"g":"m","c":"1-4","t":"del","v":2070},{"g":"m","c":"1-4","t":"del","v":300},{"g":"m","c":"1-4","t":"del","v":1380},{"g":"m","c":"1-4","t":"del","v":400},{"g":"m","c":"1-4","t":"del","v":180},{"g":"m","c":"1-4","t":"del","v":520},{"g":"m","c":"1-4","t":"del","v":380},{"g":"m","c":"1-4","t":"del","v":650},{"g":"m","c":"1-4","t":"del","v":240},
{"g":"m","c":"5-30","t":"wt","v":490},{"g":"m","c":"5-30","t":"wt","v":1200},{"g":"m","c":"5-30","t":"wt","v":250},{"g":"m","c":"5-30","t":"wt","v":700},{"g":"m","c":"5-30","t":"wt","v":80},{"g":"m","c":"5-30","t":"wt","v":1600},{"g":"m","c":"5-30","t":"wt","v":350},{"g":"m","c":"5-30","t":"wt","v":550},{"g":"m","c":"5-30","t":"wt","v":150},{"g":"m","c":"5-30","t":"wt","v":1000},{"g":"m","c":"5-30","t":"wt","v":420},{"g":"m","c":"5-30","t":"wt","v":300},{"g":"m","c":"5-30","t":"wt","v":800},{"g":"m","c":"5-30","t":"wt","v":40},{"g":"m","c":"5-30","t":"wt","v":600},{"g":"m","c":"5-30","t":"wt","v":1400},{"g":"m","c":"5-30","t":"wt","v":200},{"g":"m","c":"5-30","t":"wt","v":480},{"g":"m","c":"5-30","t":"wt","v":650},{"g":"m","c":"5-30","t":"wt","v":120},{"g":"m","c":"5-30","t":"wt","v":1700},{"g":"m","c":"5-30","t":"wt","v":380},{"g":"m","c":"5-30","t":"wt","v":260},{"g":"m","c":"5-30","t":"wt","v":900},{"g":"m","c":"5-30","t":"wt","v":520},{"g":"m","c":"5-30","t":"wt","v":100},{"g":"m","c":"5-30","t":"wt","v":750},{"g":"m","c":"5-30","t":"wt","v":320},{"g":"m","c":"5-30","t":"wt","v":560},{"g":"m","c":"5-30","t":"wt","v":280},
{"g":"m","c":"5-30","t":"del","v":661},{"g":"m","c":"5-30","t":"del","v":1500},{"g":"m","c":"5-30","t":"del","v":250},{"g":"m","c":"5-30","t":"del","v":1900},{"g":"m","c":"5-30","t":"del","v":400},{"g":"m","c":"5-30","t":"del","v":1000},{"g":"m","c":"5-30","t":"del","v":150},{"g":"m","c":"5-30","t":"del","v":800},{"g":"m","c":"5-30","t":"del","v":1300},{"g":"m","c":"5-30","t":"del","v":300},{"g":"m","c":"5-30","t":"del","v":700},{"g":"m","c":"5-30","t":"del","v":50},{"g":"m","c":"5-30","t":"del","v":1100},{"g":"m","c":"5-30","t":"del","v":500},{"g":"m","c":"5-30","t":"del","v":1700},{"g":"m","c":"5-30","t":"del","v":220},{"g":"m","c":"5-30","t":"del","v":900},{"g":"m","c":"5-30","t":"del","v":600},{"g":"m","c":"5-30","t":"del","v":1250},{"g":"m","c":"5-30","t":"del","v":350},{"g":"m","c":"5-30","t":"del","v":1950},{"g":"m","c":"5-30","t":"del","v":100},{"g":"m","c":"5-30","t":"del","v":750},{"g":"m","c":"5-30","t":"del","v":450},{"g":"m","c":"5-30","t":"del","v":1050},{"g":"m","c":"5-30","t":"del","v":280},{"g":"m","c":"5-30","t":"del","v":1400},{"g":"m","c":"5-30","t":"del","v":550},{"g":"m","c":"5-30","t":"del","v":850},{"g":"m","c":"5-30","t":"del","v":200},
{"g":"m","c":"31-99","t":"wt","v":1539},{"g":"m","c":"31-99","t":"wt","v":2800},{"g":"m","c":"31-99","t":"wt","v":900},{"g":"m","c":"31-99","t":"wt","v":2200},{"g":"m","c":"31-99","t":"wt","v":300},{"g":"m","c":"31-99","t":"wt","v":1800},{"g":"m","c":"31-99","t":"wt","v":3300},{"g":"m","c":"31-99","t":"wt","v":1200},{"g":"m","c":"31-99","t":"wt","v":600},{"g":"m","c":"31-99","t":"wt","v":2000},{"g":"m","c":"31-99","t":"wt","v":1600},{"g":"m","c":"31-99","t":"wt","v":3500},{"g":"m","c":"31-99","t":"wt","v":50},{"g":"m","c":"31-99","t":"wt","v":1400},{"g":"m","c":"31-99","t":"wt","v":2500},{"g":"m","c":"31-99","t":"wt","v":800},{"g":"m","c":"31-99","t":"wt","v":1700},{"g":"m","c":"31-99","t":"wt","v":1000},{"g":"m","c":"31-99","t":"wt","v":2100},{"g":"m","c":"31-99","t":"wt","v":400},{"g":"m","c":"31-99","t":"wt","v":1900},{"g":"m","c":"31-99","t":"wt","v":3000},{"g":"m","c":"31-99","t":"wt","v":1300},{"g":"m","c":"31-99","t":"wt","v":700},
{"g":"m","c":"31-99","t":"del","v":1790},{"g":"m","c":"31-99","t":"del","v":2300},{"g":"m","c":"31-99","t":"del","v":1400},{"g":"m","c":"31-99","t":"del","v":2900},{"g":"m","c":"31-99","t":"del","v":900},{"g":"m","c":"31-99","t":"del","v":2000},{"g":"m","c":"31-99","t":"del","v":1600},{"g":"m","c":"31-99","t":"del","v":2600},{"g":"m","c":"31-99","t":"del","v":550},{"g":"m","c":"31-99","t":"del","v":1850},{"g":"m","c":"31-99","t":"del","v":2150},{"g":"m","c":"31-99","t":"del","v":1200},{"g":"m","c":"31-99","t":"del","v":1950},{"g":"m","c":"31-99","t":"del","v":2450},{"g":"m","c":"31-99","t":"del","v":1500},{"g":"m","c":"31-99","t":"del","v":1700},{"g":"m","c":"31-99","t":"del","v":2100},{"g":"m","c":"31-99","t":"del","v":1000},{"g":"m","c":"31-99","t":"del","v":1800},{"g":"m","c":"31-99","t":"del","v":2250},{"g":"m","c":"31-99","t":"del","v":1650},{"g":"m","c":"31-99","t":"del","v":2050},{"g":"m","c":"31-99","t":"del","v":1450},{"g":"m","c":"31-99","t":"del","v":1900},
{"g":"m","c":"100-149","t":"wt","v":1436},{"g":"m","c":"100-149","t":"wt","v":2600},{"g":"m","c":"100-149","t":"wt","v":1250},{"g":"m","c":"100-149","t":"wt","v":1650},{"g":"m","c":"100-149","t":"wt","v":600},{"g":"m","c":"100-149","t":"wt","v":1500},{"g":"m","c":"100-149","t":"wt","v":2400},{"g":"m","c":"100-149","t":"wt","v":1300},{"g":"m","c":"100-149","t":"wt","v":150},{"g":"m","c":"100-149","t":"wt","v":1600},{"g":"m","c":"100-149","t":"wt","v":800},{"g":"m","c":"100-149","t":"wt","v":1400},{"g":"m","c":"100-149","t":"wt","v":2000},{"g":"m","c":"100-149","t":"wt","v":1200},
{"g":"m","c":"100-149","t":"del","v":2006},{"g":"m","c":"100-149","t":"del","v":2400},{"g":"m","c":"100-149","t":"del","v":1650},{"g":"m","c":"100-149","t":"del","v":2200},{"g":"m","c":"100-149","t":"del","v":800},{"g":"m","c":"100-149","t":"del","v":2100},{"g":"m","c":"100-149","t":"del","v":1900},{"g":"m","c":"100-149","t":"del","v":1000},{"g":"m","c":"100-149","t":"del","v":2300},{"g":"m","c":"100-149","t":"del","v":1700},{"g":"m","c":"100-149","t":"del","v":2050},{"g":"m","c":"100-149","t":"del","v":2150},{"g":"m","c":"100-149","t":"del","v":1800},{"g":"m","c":"100-149","t":"del","v":2250},
{"g":"m","c":"150-534","t":"wt","v":2041},{"g":"m","c":"150-534","t":"wt","v":3400},{"g":"m","c":"150-534","t":"wt","v":1650},{"g":"m","c":"150-534","t":"wt","v":2600},{"g":"m","c":"150-534","t":"wt","v":300},{"g":"m","c":"150-534","t":"wt","v":2200},{"g":"m","c":"150-534","t":"wt","v":3800},{"g":"m","c":"150-534","t":"wt","v":1900},{"g":"m","c":"150-534","t":"wt","v":4650},{"g":"m","c":"150-534","t":"wt","v":1100},{"g":"m","c":"150-534","t":"wt","v":2500},{"g":"m","c":"150-534","t":"wt","v":1700},{"g":"m","c":"150-534","t":"wt","v":400},{"g":"m","c":"150-534","t":"wt","v":2100},
{"g":"m","c":"150-534","t":"del","v":1870},{"g":"m","c":"150-534","t":"del","v":2650},{"g":"m","c":"150-534","t":"del","v":1650},{"g":"m","c":"150-534","t":"del","v":2300},{"g":"m","c":"150-534","t":"del","v":1400},{"g":"m","c":"150-534","t":"del","v":2000},{"g":"m","c":"150-534","t":"del","v":1750},{"g":"m","c":"150-534","t":"del","v":2500},{"g":"m","c":"150-534","t":"del","v":1600},{"g":"m","c":"150-534","t":"del","v":1950},{"g":"m","c":"150-534","t":"del","v":2200},{"g":"m","c":"150-534","t":"del","v":1700},{"g":"m","c":"150-534","t":"del","v":2100},{"g":"m","c":"150-534","t":"del","v":1800},
{"g":"m","c":"535-558","t":"wt","v":3534},{"g":"m","c":"535-558","t":"wt","v":4400},{"g":"m","c":"535-558","t":"wt","v":2900},{"g":"m","c":"535-558","t":"wt","v":5000},{"g":"m","c":"535-558","t":"wt","v":2200},{"g":"m","c":"535-558","t":"wt","v":3800},{"g":"m","c":"535-558","t":"wt","v":4100},{"g":"m","c":"535-558","t":"wt","v":1500},{"g":"m","c":"535-558","t":"wt","v":3600},{"g":"m","c":"535-558","t":"wt","v":5500},{"g":"m","c":"535-558","t":"wt","v":3000},{"g":"m","c":"535-558","t":"wt","v":4300},{"g":"m","c":"535-558","t":"wt","v":2500},{"g":"m","c":"535-558","t":"wt","v":3700},{"g":"m","c":"535-558","t":"wt","v":850},{"g":"m","c":"535-558","t":"wt","v":3300},{"g":"m","c":"535-558","t":"wt","v":4500},{"g":"m","c":"535-558","t":"wt","v":3200},{"g":"m","c":"535-558","t":"wt","v":3900},{"g":"m","c":"535-558","t":"wt","v":2000},{"g":"m","c":"535-558","t":"wt","v":3450},{"g":"m","c":"535-558","t":"wt","v":4200},{"g":"m","c":"535-558","t":"wt","v":2700},{"g":"m","c":"535-558","t":"wt","v":3650},
{"g":"m","c":"535-558","t":"del","v":3249},{"g":"m","c":"535-558","t":"del","v":4400},{"g":"m","c":"535-558","t":"del","v":2600},{"g":"m","c":"535-558","t":"del","v":3900},{"g":"m","c":"535-558","t":"del","v":1650},{"g":"m","c":"535-558","t":"del","v":3500},{"g":"m","c":"535-558","t":"del","v":4200},{"g":"m","c":"535-558","t":"del","v":2300},{"g":"m","c":"535-558","t":"del","v":3100},{"g":"m","c":"535-558","t":"del","v":470},{"g":"m","c":"535-558","t":"del","v":3800},{"g":"m","c":"535-558","t":"del","v":2800},{"g":"m","c":"535-558","t":"del","v":4480},{"g":"m","c":"535-558","t":"del","v":3300},{"g":"m","c":"535-558","t":"del","v":2000},{"g":"m","c":"535-558","t":"del","v":3600},{"g":"m","c":"535-558","t":"del","v":4000},{"g":"m","c":"535-558","t":"del","v":2900},{"g":"m","c":"535-558","t":"del","v":3400},{"g":"m","c":"535-558","t":"del","v":2700},{"g":"m","c":"535-558","t":"del","v":3700},{"g":"m","c":"535-558","t":"del","v":3050},{"g":"m","c":"535-558","t":"del","v":4100},{"g":"m","c":"535-558","t":"del","v":3350}
],
"tbl": [
{"r":"h1","c":"name","s":""},{"r":"h1","c":"log2FC","s":""},{"r":"h1","c":"padjusted","s":""},{"r":"h1","c":"wt rep1","s":""},{"r":"h1","c":"wt rep2","s":""},{"r":"h1","c":"wt rep3","s":""},{"r":"h1","c":"del. rep1","s":"transcripts per million"},{"r":"h1","c":"del. rep2","s":""},{"r":"h1","c":"del. rep3","s":""},
{"r":"h2","c":"name","s":""},{"r":"h2","c":"log2FC","s":"log2FC"},{"r":"h2","c":"padjusted","s":"padjusted"},{"r":"h2","c":"wt rep1","s":"wt rep1"},{"r":"h2","c":"wt rep2","s":"wt rep2"},{"r":"h2","c":"wt rep3","s":"wt rep3"},{"r":"h2","c":"del. rep1","s":"del. rep1"},{"r":"h2","c":"del. rep2","s":"del. rep2"},{"r":"h2","c":"del. rep3","s":"del. rep3"},
{"r":"dpy-23","c":"name","s":"dpy-23"},{"r":"dpy-23","c":"log2FC","s":"0.06"},{"r":"dpy-23","c":"padjusted","s":"0.95"},{"r":"dpy-23","c":"wt rep1","s":"86.19"},{"r":"dpy-23","c":"wt rep2","s":"87.47"},{"r":"dpy-23","c":"wt rep3","s":"98.66"},{"r":"dpy-23","c":"del. rep1","s":"120.03"},{"r":"dpy-23","c":"del. rep2","s":"117.22"},{"r":"dpy-23","c":"del. rep3","s":"106.35"},
{"r":"wdr-5.2","c":"name","s":"wdr-5.2"},{"r":"wdr-5.2","c":"log2FC","s":"-0.30"},{"r":"wdr-5.2","c":"padjusted","s":"0.66"},{"r":"wdr-5.2","c":"wt rep1","s":"30.93"},{"r":"wdr-5.2","c":"wt rep2","s":"30.16"},{"r":"wdr-5.2","c":"wt rep3","s":"31.60"},{"r":"wdr-5.2","c":"del. rep1","s":"32.90"},{"r":"wdr-5.2","c":"del. rep2","s":"27.85"},{"r":"wdr-5.2","c":"del. rep3","s":"22.30"},
{"r":"mdh-1","c":"name","s":"mdh-1"},{"r":"mdh-1","c":"log2FC","s":"-0.71"},{"r":"mdh-1","c":"padjusted","s":"0.19"},{"r":"mdh-1","c":"wt rep1","s":"895.01"},{"r":"mdh-1","c":"wt rep2","s":"848.35"},{"r":"mdh-1","c":"wt rep3","s":"628.12"},{"r":"mdh-1","c":"del. rep1","s":"607.42"},{"r":"mdh-1","c":"del. rep2","s":"592.88"},{"r":"mdh-1","c":"del. rep3","s":"429.90"}
]
},
"spacing": 48,
"resolve": {"scale": {"x": "independent", "y": "independent"}},
"vconcat": [
{
"spacing": 24,
"resolve": {"scale": {"x": "independent", "y": "independent", "color": "independent"}},
"vconcat": [
{
"width": 860, "height": 14,
"layer": [
{"data": {"name": "chrom"}, "mark": {"type": "rect", "fill": "#efefef", "cornerRadius": 7},
 "encoding": {"x": {"field": "start", "type": "quantitative", "scale": {"domain": [-0.2932, 17.72], "nice": false, "zero": false}, "axis": null}, "x2": {"field": "len"},
  "y": {"datum": 0, "type": "quantitative", "scale": {"domain": [0, 1], "nice": false, "zero": false}, "axis": null}, "y2": {"datum": 1}}},
{"data": {"name": "rex"}, "mark": {"type": "rule", "strokeWidth": 2},
 "encoding": {"x": {"field": "pos", "type": "quantitative", "scale": {"domain": [-0.2932, 17.72], "nice": false, "zero": false}, "axis": null},
  "y": {"datum": 0, "type": "quantitative", "scale": {"domain": [0, 1], "nice": false, "zero": false}, "axis": null}, "y2": {"datum": 1},
  "color": {"field": "k", "type": "nominal", "scale": {"domain": ["strong", "intermediate", "weak"], "range": ["#de3b32", "#f0a04b", "#cccc44"]},
   "legend": {"orient": "none", "legendX": 1, "legendY": 27, "title": null, "symbolType": "stroke", "symbolStrokeWidth": 2.5, "symbolSize": 300, "clipHeight": 14.5, "rowPadding": 0, "labelFontSize": 11.5, "labelColor": "#333", "labelOffset": 8, "labelExpr": "datum.label + ' rex'"}}}},
{"data": {"name": "rex"}, "transform": [{"filter": "datum.name == 'rex-1'"}], "mark": {"type": "rule", "strokeWidth": 2, "color": "#f0a04b"},
 "encoding": {"x": {"field": "pos", "type": "quantitative", "scale": {"domain": [-0.2932, 17.72], "nice": false, "zero": false}, "axis": null},
  "y": {"datum": 0, "type": "quantitative", "scale": {"domain": [0, 1], "nice": false, "zero": false}, "axis": null}, "y2": {"datum": -0.45}}},
{"data": {"name": "rex"}, "transform": [{"filter": "datum.name == 'rex-1'"}], "mark": {"type": "text", "fontSize": 21, "fontStyle": "italic", "color": "#ef8d3c", "baseline": "alphabetic"},
 "encoding": {"x": {"field": "pos", "type": "quantitative", "scale": {"domain": [-0.2932, 17.72], "nice": false, "zero": false}, "axis": null},
  "y": {"datum": -1.643, "type": "quantitative", "scale": {"domain": [0, 1], "nice": false, "zero": false}, "axis": null}, "text": {"field": "name"}}},
{"data": {"name": "genes"}, "mark": {"type": "rule", "strokeWidth": 2.2, "color": "#7fcde3"},
 "encoding": {"x": {"field": "pos", "type": "quantitative", "scale": {"domain": [-0.2932, 17.72], "nice": false, "zero": false}, "axis": null},
  "y": {"datum": 0, "type": "quantitative", "scale": {"domain": [0, 1], "nice": false, "zero": false}, "axis": null}, "y2": {"datum": 1}}},
{"data": {"name": "genes"}, "mark": {"type": "text", "fontSize": 21, "fontStyle": "italic", "color": "#1aa6d6", "baseline": "alphabetic", "dx": 4},
 "encoding": {"x": {"field": "pos", "type": "quantitative", "scale": {"domain": [-0.2932, 17.72], "nice": false, "zero": false}, "axis": null},
  "y": {"datum": 1.643, "type": "quantitative", "scale": {"domain": [0, 1], "nice": false, "zero": false}, "axis": null}, "text": {"field": "gene"}}},
{"data": {"name": "chrom"}, "mark": {"type": "text", "fontSize": 20, "align": "left", "baseline": "alphabetic", "dx": -31, "color": "#111"},
 "encoding": {"x": {"field": "start", "type": "quantitative", "scale": {"domain": [-0.2932, 17.72], "nice": false, "zero": false}, "axis": null},
  "y": {"datum": 1.643, "type": "quantitative", "scale": {"domain": [0, 1], "nice": false, "zero": false}, "axis": null}, "text": {"field": "label"}}},
{"data": {"name": "panels"}, "transform": [{"filter": "datum.p == 'A)'"}], "mark": {"type": "text", "fontSize": 27, "align": "left", "baseline": "alphabetic", "dx": -91, "color": "#000"},
 "encoding": {"x": {"datum": 0, "type": "quantitative", "scale": {"domain": [-0.2932, 17.72], "nice": false, "zero": false}, "axis": null},
  "y": {"datum": 1.643, "type": "quantitative", "scale": {"domain": [0, 1], "nice": false, "zero": false}, "axis": null}, "text": {"field": "p"}}}
]
},
{
"spacing": 47,
"bounds": "flush",
"resolve": {"scale": {"x": "independent", "y": "independent", "color": "independent"}},
"hconcat": [
{
"width": 322, "height": 178,
"layer": [
{"data": {"name": "box"}, "transform": [{"filter": "datum.g == 'd' && datum.t == 'wt'"}], "mark": {"type": "rule", "strokeWidth": 1.2, "xOffset": -10.5, "color": "#f4cc43"},
 "encoding": {
  "x": {"field": "c", "type": "nominal", "scale": {"type": "band", "domain": ["1-4","5-30","31-99","100-149","150-534","535-558"], "paddingInner": 0, "paddingOuter": 0.1},
   "axis": {"title": "cell #", "titleAlign": "left", "titleX": -22, "titleY": 15, "titleBaseline": "middle", "titleFontSize": 14, "titleFontWeight": "normal", "titleColor": "#333", "labelAngle": 0, "labelFontSize": 14, "labelBaseline": "top", "labelPadding": 3, "labelLineHeight": 15, "labelOverlap": false, "labelColor": "#333", "tickColor": "#333", "tickSize": 4, "domainColor": "#000", "domainWidth": 1.1,
    "labelExpr": "datum.value == '100-149' ? ['100-', '149'] : datum.value == '150-534' ? ['150 -', '534'] : datum.value == '535-558' ? ['535-', '558'] : datum.label"}},
  "y": {"field": "lo", "type": "quantitative", "scale": {"domain": [-211, 3834], "nice": false, "zero": false},
   "axis": {"values": [0, 1000, 2000, 3000], "format": "d", "title": "smFISH counts per embryo", "titleFontSize": 17, "titleFontWeight": "normal", "titleColor": "#111", "titlePadding": 5, "labelFontSize": 14, "labelPadding": 1, "labelColor": "#333", "tickColor": "#333", "tickSize": 4, "domainColor": "#000", "domainWidth": 1.1, "grid": false}},
  "y2": {"field": "hi"}}},
{"data": {"name": "box"}, "transform": [{"filter": "datum.g == 'd' && datum.t == 'del'"}], "mark": {"type": "rule", "strokeWidth": 1.2, "xOffset": 10.5, "color": "#d83f2a"},
 "encoding": {"x": {"field": "c", "type": "nominal", "scale": {"type": "band", "domain": ["1-4","5-30","31-99","100-149","150-534","535-558"], "paddingInner": 0, "paddingOuter": 0.1}},
  "y": {"field": "lo", "type": "quantitative", "scale": {"domain": [-211, 3834], "nice": false, "zero": false}}, "y2": {"field": "hi"}}},
{"data": {"name": "box"}, "transform": [{"filter": "datum.g == 'd' && datum.t == 'wt'"}], "mark": {"type": "rect", "fill": "white", "stroke": "#f4cc43", "strokeWidth": 1.2, "width": 19, "xOffset": -10.5},
 "encoding": {"x": {"field": "c", "type": "nominal", "scale": {"type": "band", "domain": ["1-4","5-30","31-99","100-149","150-534","535-558"], "paddingInner": 0, "paddingOuter": 0.1}},
  "y": {"field": "q1", "type": "quantitative", "scale": {"domain": [-211, 3834], "nice": false, "zero": false}}, "y2": {"field": "q3"}}},
{"data": {"name": "box"}, "transform": [{"filter": "datum.g == 'd' && datum.t == 'del'"}], "mark": {"type": "rect", "fill": "white", "stroke": "#d83f2a", "strokeWidth": 1.2, "width": 19, "xOffset": 10.5},
 "encoding": {"x": {"field": "c", "type": "nominal", "scale": {"type": "band", "domain": ["1-4","5-30","31-99","100-149","150-534","535-558"], "paddingInner": 0, "paddingOuter": 0.1}},
  "y": {"field": "q1", "type": "quantitative", "scale": {"domain": [-211, 3834], "nice": false, "zero": false}}, "y2": {"field": "q3"}}},
{"data": {"name": "box"}, "transform": [{"filter": "datum.g == 'd' && datum.t == 'wt'"}], "mark": {"type": "rect", "fillOpacity": 0, "stroke": "#f4cc43", "strokeWidth": 2, "width": 19, "xOffset": -10.5},
 "encoding": {"x": {"field": "c", "type": "nominal", "scale": {"type": "band", "domain": ["1-4","5-30","31-99","100-149","150-534","535-558"], "paddingInner": 0, "paddingOuter": 0.1}},
  "y": {"field": "md", "type": "quantitative", "scale": {"domain": [-211, 3834], "nice": false, "zero": false}}, "y2": {"field": "md"}}},
{"data": {"name": "box"}, "transform": [{"filter": "datum.g == 'd' && datum.t == 'del'"}], "mark": {"type": "rect", "fillOpacity": 0, "stroke": "#d83f2a", "strokeWidth": 2, "width": 19, "xOffset": 10.5},
 "encoding": {"x": {"field": "c", "type": "nominal", "scale": {"type": "band", "domain": ["1-4","5-30","31-99","100-149","150-534","535-558"], "paddingInner": 0, "paddingOuter": 0.1}},
  "y": {"field": "md", "type": "quantitative", "scale": {"domain": [-211, 3834], "nice": false, "zero": false}}, "y2": {"field": "md"}}},
{"data": {"name": "pts"}, "transform": [{"filter": "datum.g == 'd'"}, {"window": [{"op": "row_number", "as": "rn"}], "groupby": ["c", "t"]}, {"window": [{"op": "percent_rank", "as": "jx"}], "groupby": ["c"], "sort": [{"field": "t", "order": "descending"}, {"field": "rn", "order": "ascending"}]}],
 "mark": {"type": "circle", "size": 22, "opacity": 0.5},
 "encoding": {"x": {"field": "c", "type": "nominal", "scale": {"type": "band", "domain": ["1-4","5-30","31-99","100-149","150-534","535-558"], "paddingInner": 0, "paddingOuter": 0.1}},
  "xOffset": {"field": "jx", "type": "quantitative", "scale": {"domain": [0, 1], "range": [6, 46]}},
  "y": {"field": "v", "type": "quantitative", "scale": {"domain": [-211, 3834], "nice": false, "zero": false}},
  "color": {"field": "t", "type": "nominal", "scale": {"domain": ["wt", "del"], "range": ["#f3cb45", "#d94a30"]}, "legend": null}}},
{"data": {"name": "sig"}, "transform": [{"filter": "datum.g == 'd'"}], "mark": {"type": "rule", "color": "#8c8c8c", "strokeWidth": 1, "xOffset": -8.75},
 "encoding": {"x": {"field": "c", "type": "nominal", "scale": {"type": "band", "domain": ["1-4","5-30","31-99","100-149","150-534","535-558"], "paddingInner": 0, "paddingOuter": 0.1}},
  "y": {"datum": 4023, "type": "quantitative", "scale": {"domain": [-211, 3834], "nice": false, "zero": false}}, "y2": {"datum": 3909}}},
{"data": {"name": "sig"}, "transform": [{"filter": "datum.g == 'd'"}], "mark": {"type": "rule", "color": "#8c8c8c", "strokeWidth": 1, "xOffset": 8.75},
 "encoding": {"x": {"field": "c", "type": "nominal", "scale": {"type": "band", "domain": ["1-4","5-30","31-99","100-149","150-534","535-558"], "paddingInner": 0, "paddingOuter": 0.1}},
  "y": {"datum": 4023, "type": "quantitative", "scale": {"domain": [-211, 3834], "nice": false, "zero": false}}, "y2": {"datum": 3909}}},
{"data": {"name": "sig"}, "transform": [{"filter": "datum.g == 'd'"}], "mark": {"type": "tick", "color": "#8c8c8c", "size": 17.5, "thickness": 1},
 "encoding": {"x": {"field": "c", "type": "nominal", "scale": {"type": "band", "domain": ["1-4","5-30","31-99","100-149","150-534","535-558"], "paddingInner": 0, "paddingOuter": 0.1}},
  "y": {"datum": 4023, "type": "quantitative", "scale": {"domain": [-211, 3834], "nice": false, "zero": false}}}},
{"data": {"name": "sig"}, "transform": [{"filter": "datum.g == 'd'"}], "mark": {"type": "text", "fontSize": 10, "color": "#6e6e6e", "font": "Liberation Sans Narrow, Liberation Sans"},
 "encoding": {"x": {"field": "c", "type": "nominal", "scale": {"type": "band", "domain": ["1-4","5-30","31-99","100-149","150-534","535-558"], "paddingInner": 0, "paddingOuter": 0.1}},
  "y": {"datum": 4236, "type": "quantitative", "scale": {"domain": [-211, 3834], "nice": false, "zero": false}}, "text": {"field": "s"}}},
{"data": {"name": "ttl"}, "transform": [{"filter": "datum.g == 'd'"}], "mark": {"type": "text", "fontSize": 19, "align": "right", "dx": -30.3, "color": "#000"},
 "encoding": {"x": {"datum": "100-149", "type": "nominal", "scale": {"type": "band", "domain": ["1-4","5-30","31-99","100-149","150-534","535-558"], "paddingInner": 0, "paddingOuter": 0.1}},
  "y": {"datum": 4766, "type": "quantitative", "scale": {"domain": [-211, 3834], "nice": false, "zero": false}}, "text": {"field": "pre"}}},
{"data": {"name": "ttl"}, "transform": [{"filter": "datum.g == 'd'"}], "mark": {"type": "text", "fontSize": 19, "align": "left", "fontStyle": "italic", "dx": -25, "color": "#000"},
 "encoding": {"x": {"datum": "100-149", "type": "nominal", "scale": {"type": "band", "domain": ["1-4","5-30","31-99","100-149","150-534","535-558"], "paddingInner": 0, "paddingOuter": 0.1}},
  "y": {"datum": 4766, "type": "quantitative", "scale": {"domain": [-211, 3834], "nice": false, "zero": false}}, "text": {"field": "gene"}}},
{"data": {"name": "ttl"}, "transform": [{"filter": "datum.g == 'd'"}], "mark": {"type": "text", "fontSize": 19, "align": "left", "dx": 38.4, "color": "#000"},
 "encoding": {"x": {"datum": "100-149", "type": "nominal", "scale": {"type": "band", "domain": ["1-4","5-30","31-99","100-149","150-534","535-558"], "paddingInner": 0, "paddingOuter": 0.1}},
  "y": {"datum": 4766, "type": "quantitative", "scale": {"domain": [-211, 3834], "nice": false, "zero": false}}, "text": {"field": "post"}}},
{"data": {"name": "legend"}, "transform": [{"filter": "datum.t == 'wt'"}], "mark": {"type": "square", "size": 400, "opacity": 1, "color": "#f7e49a", "xOffset": -20.7},
 "encoding": {"x": {"datum": "1-4", "type": "nominal", "scale": {"type": "band", "domain": ["1-4","5-30","31-99","100-149","150-534","535-558"], "paddingInner": 0, "paddingOuter": 0.1}},
  "y": {"datum": 5948, "type": "quantitative", "scale": {"domain": [-211, 3834], "nice": false, "zero": false}}}},
{"data": {"name": "legend"}, "transform": [{"filter": "datum.t == 'del'"}], "mark": {"type": "square", "size": 400, "opacity": 1, "color": "#d7503b", "xOffset": 111.8},
 "encoding": {"x": {"datum": "1-4", "type": "nominal", "scale": {"type": "band", "domain": ["1-4","5-30","31-99","100-149","150-534","535-558"], "paddingInner": 0, "paddingOuter": 0.1}},
  "y": {"datum": 5948, "type": "quantitative", "scale": {"domain": [-211, 3834], "nice": false, "zero": false}}}},
{"data": {"name": "legend"}, "transform": [{"filter": "datum.t == 'wt'"}], "mark": {"type": "text", "fontSize": 18, "align": "left", "dx": 1.8, "color": "#000"},
 "encoding": {"x": {"datum": "1-4", "type": "nominal", "scale": {"type": "band", "domain": ["1-4","5-30","31-99","100-149","150-534","535-558"], "paddingInner": 0, "paddingOuter": 0.1}},
  "y": {"datum": 5948, "type": "quantitative", "scale": {"domain": [-211, 3834], "nice": false, "zero": false}}, "text": {"field": "label"}}},
{"data": {"name": "legend"}, "transform": [{"filter": "datum.t == 'del'"}], "mark": {"type": "text", "fontSize": 18, "align": "left", "fontStyle": "italic", "dx": 129.8, "color": "#000"},
 "encoding": {"x": {"datum": "1-4", "type": "nominal", "scale": {"type": "band", "domain": ["1-4","5-30","31-99","100-149","150-534","535-558"], "paddingInner": 0, "paddingOuter": 0.1}},
  "y": {"datum": 5948, "type": "quantitative", "scale": {"domain": [-211, 3834], "nice": false, "zero": false}}, "text": {"field": "label"}}},
{"data": {"name": "legend"}, "transform": [{"filter": "datum.t == 'del'"}], "mark": {"type": "text", "fontSize": 18, "align": "left", "dx": 175.8, "color": "#000"},
 "encoding": {"x": {"datum": "1-4", "type": "nominal", "scale": {"type": "band", "domain": ["1-4","5-30","31-99","100-149","150-534","535-558"], "paddingInner": 0, "paddingOuter": 0.1}},
  "y": {"datum": 5948, "type": "quantitative", "scale": {"domain": [-211, 3834], "nice": false, "zero": false}}, "text": {"field": "rest"}}},
{"data": {"name": "panels"}, "transform": [{"filter": "datum.p == 'B)'"}], "mark": {"type": "text", "fontSize": 29, "align": "left", "dx": -108.2, "color": "#000"},
 "encoding": {"x": {"datum": "1-4", "type": "nominal", "scale": {"type": "band", "domain": ["1-4","5-30","31-99","100-149","150-534","535-558"], "paddingInner": 0, "paddingOuter": 0.1}},
  "y": {"datum": 5857, "type": "quantitative", "scale": {"domain": [-211, 3834], "nice": false, "zero": false}}, "text": {"field": "p"}}}
]
},
{
"width": 322, "height": 178,
"layer": [
{"data": {"name": "box"}, "transform": [{"filter": "datum.g == 'w' && datum.t == 'wt'"}], "mark": {"type": "rule", "strokeWidth": 1.2, "xOffset": -10.5, "color": "#f4cc43"},
 "encoding": {
  "x": {"field": "c", "type": "nominal", "scale": {"type": "band", "domain": ["1-4","5-30","31-99","100-149","150-534","535-558"], "paddingInner": 0, "paddingOuter": 0.1},
   "axis": {"title": "cell #", "titleAlign": "left", "titleX": -22, "titleY": 15, "titleBaseline": "middle", "titleFontSize": 14, "titleFontWeight": "normal", "titleColor": "#333", "labelAngle": 0, "labelFontSize": 14, "labelBaseline": "top", "labelPadding": 3, "labelLineHeight": 15, "labelOverlap": false, "labelColor": "#333", "tickColor": "#333", "tickSize": 4, "domainColor": "#000", "domainWidth": 1.1,
    "labelExpr": "datum.value == '100-149' ? ['100-', '149'] : datum.value == '150-534' ? ['150 -', '534'] : datum.value == '535-558' ? ['535-', '558'] : datum.label"}},
  "y": {"field": "lo", "type": "quantitative", "scale": {"domain": [-56, 1056], "nice": false, "zero": false},
   "axis": {"values": [0, 250, 500, 750, 1000], "format": "d", "title": null, "labelFontSize": 14, "labelPadding": 5, "labelColor": "#333", "tickColor": "#333", "tickSize": 4, "domainColor": "#000", "domainWidth": 1.1, "grid": false}},
  "y2": {"field": "hi"}}},
{"data": {"name": "box"}, "transform": [{"filter": "datum.g == 'w' && datum.t == 'del'"}], "mark": {"type": "rule", "strokeWidth": 1.2, "xOffset": 10.5, "color": "#d83f2a"},
 "encoding": {"x": {"field": "c", "type": "nominal", "scale": {"type": "band", "domain": ["1-4","5-30","31-99","100-149","150-534","535-558"], "paddingInner": 0, "paddingOuter": 0.1}},
  "y": {"field": "lo", "type": "quantitative", "scale": {"domain": [-56, 1056], "nice": false, "zero": false}}, "y2": {"field": "hi"}}},
{"data": {"name": "box"}, "transform": [{"filter": "datum.g == 'w' && datum.t == 'wt'"}], "mark": {"type": "rect", "fill": "white", "stroke": "#f4cc43", "strokeWidth": 1.2, "width": 19, "xOffset": -10.5},
 "encoding": {"x": {"field": "c", "type": "nominal", "scale": {"type": "band", "domain": ["1-4","5-30","31-99","100-149","150-534","535-558"], "paddingInner": 0, "paddingOuter": 0.1}},
  "y": {"field": "q1", "type": "quantitative", "scale": {"domain": [-56, 1056], "nice": false, "zero": false}}, "y2": {"field": "q3"}}},
{"data": {"name": "box"}, "transform": [{"filter": "datum.g == 'w' && datum.t == 'del'"}], "mark": {"type": "rect", "fill": "white", "stroke": "#d83f2a", "strokeWidth": 1.2, "width": 19, "xOffset": 10.5},
 "encoding": {"x": {"field": "c", "type": "nominal", "scale": {"type": "band", "domain": ["1-4","5-30","31-99","100-149","150-534","535-558"], "paddingInner": 0, "paddingOuter": 0.1}},
  "y": {"field": "q1", "type": "quantitative", "scale": {"domain": [-56, 1056], "nice": false, "zero": false}}, "y2": {"field": "q3"}}},
{"data": {"name": "box"}, "transform": [{"filter": "datum.g == 'w' && datum.t == 'wt'"}], "mark": {"type": "rect", "fillOpacity": 0, "stroke": "#f4cc43", "strokeWidth": 2, "width": 19, "xOffset": -10.5},
 "encoding": {"x": {"field": "c", "type": "nominal", "scale": {"type": "band", "domain": ["1-4","5-30","31-99","100-149","150-534","535-558"], "paddingInner": 0, "paddingOuter": 0.1}},
  "y": {"field": "md", "type": "quantitative", "scale": {"domain": [-56, 1056], "nice": false, "zero": false}}, "y2": {"field": "md"}}},
{"data": {"name": "box"}, "transform": [{"filter": "datum.g == 'w' && datum.t == 'del'"}], "mark": {"type": "rect", "fillOpacity": 0, "stroke": "#d83f2a", "strokeWidth": 2, "width": 19, "xOffset": 10.5},
 "encoding": {"x": {"field": "c", "type": "nominal", "scale": {"type": "band", "domain": ["1-4","5-30","31-99","100-149","150-534","535-558"], "paddingInner": 0, "paddingOuter": 0.1}},
  "y": {"field": "md", "type": "quantitative", "scale": {"domain": [-56, 1056], "nice": false, "zero": false}}, "y2": {"field": "md"}}},
{"data": {"name": "pts"}, "transform": [{"filter": "datum.g == 'w'"}, {"window": [{"op": "row_number", "as": "rn"}], "groupby": ["c", "t"]}, {"window": [{"op": "percent_rank", "as": "jx"}], "groupby": ["c"], "sort": [{"field": "t", "order": "descending"}, {"field": "rn", "order": "ascending"}]}],
 "mark": {"type": "circle", "size": 22, "opacity": 0.5},
 "encoding": {"x": {"field": "c", "type": "nominal", "scale": {"type": "band", "domain": ["1-4","5-30","31-99","100-149","150-534","535-558"], "paddingInner": 0, "paddingOuter": 0.1}},
  "xOffset": {"field": "jx", "type": "quantitative", "scale": {"domain": [0, 1], "range": [6, 46]}},
  "y": {"field": "v", "type": "quantitative", "scale": {"domain": [-56, 1056], "nice": false, "zero": false}},
  "color": {"field": "t", "type": "nominal", "scale": {"domain": ["wt", "del"], "range": ["#f3cb45", "#d94a30"]}, "legend": null}}},
{"data": {"name": "sig"}, "transform": [{"filter": "datum.g == 'w'"}], "mark": {"type": "rule", "color": "#8c8c8c", "strokeWidth": 1, "xOffset": -8.75},
 "encoding": {"x": {"field": "c", "type": "nominal", "scale": {"type": "band", "domain": ["1-4","5-30","31-99","100-149","150-534","535-558"], "paddingInner": 0, "paddingOuter": 0.1}},
  "y": {"datum": 1125, "type": "quantitative", "scale": {"domain": [-56, 1056], "nice": false, "zero": false}}, "y2": {"datum": 1077}}},
{"data": {"name": "sig"}, "transform": [{"filter": "datum.g == 'w'"}], "mark": {"type": "rule", "color": "#8c8c8c", "strokeWidth": 1, "xOffset": 8.75},
 "encoding": {"x": {"field": "c", "type": "nominal", "scale": {"type": "band", "domain": ["1-4","5-30","31-99","100-149","150-534","535-558"], "paddingInner": 0, "paddingOuter": 0.1}},
  "y": {"datum": 1125, "type": "quantitative", "scale": {"domain": [-56, 1056], "nice": false, "zero": false}}, "y2": {"datum": 1077}}},
{"data": {"name": "sig"}, "transform": [{"filter": "datum.g == 'w'"}], "mark": {"type": "tick", "color": "#8c8c8c", "size": 17.5, "thickness": 1},
 "encoding": {"x": {"field": "c", "type": "nominal", "scale": {"type": "band", "domain": ["1-4","5-30","31-99","100-149","150-534","535-558"], "paddingInner": 0, "paddingOuter": 0.1}},
  "y": {"datum": 1125, "type": "quantitative", "scale": {"domain": [-56, 1056], "nice": false, "zero": false}}}},
{"data": {"name": "sig"}, "transform": [{"filter": "datum.g == 'w'"}], "mark": {"type": "text", "fontSize": 10, "color": "#6e6e6e", "font": "Liberation Sans Narrow, Liberation Sans"},
 "encoding": {"x": {"field": "c", "type": "nominal", "scale": {"type": "band", "domain": ["1-4","5-30","31-99","100-149","150-534","535-558"], "paddingInner": 0, "paddingOuter": 0.1}},
  "y": {"datum": 1171, "type": "quantitative", "scale": {"domain": [-56, 1056], "nice": false, "zero": false}}, "text": {"field": "s"}}},
{"data": {"name": "ttl"}, "transform": [{"filter": "datum.g == 'w'"}], "mark": {"type": "text", "fontSize": 19, "align": "right", "dx": -34, "color": "#000"},
 "encoding": {"x": {"datum": "100-149", "type": "nominal", "scale": {"type": "band", "domain": ["1-4","5-30","31-99","100-149","150-534","535-558"], "paddingInner": 0, "paddingOuter": 0.1}},
  "y": {"datum": 1322, "type": "quantitative", "scale": {"domain": [-56, 1056], "nice": false, "zero": false}}, "text": {"field": "pre"}}},
{"data": {"name": "ttl"}, "transform": [{"filter": "datum.g == 'w'"}], "mark": {"type": "text", "fontSize": 19, "align": "left", "fontStyle": "italic", "dx": -28.7, "color": "#000"},
 "encoding": {"x": {"datum": "100-149", "type": "nominal", "scale": {"type": "band", "domain": ["1-4","5-30","31-99","100-149","150-534","535-558"], "paddingInner": 0, "paddingOuter": 0.1}},
  "y": {"datum": 1322, "type": "quantitative", "scale": {"domain": [-56, 1056], "nice": false, "zero": false}}, "text": {"field": "gene"}}},
{"data": {"name": "ttl"}, "transform": [{"filter": "datum.g == 'w'"}], "mark": {"type": "text", "fontSize": 19, "align": "left", "dx": 39.9, "color": "#000"},
 "encoding": {"x": {"datum": "100-149", "type": "nominal", "scale": {"type": "band", "domain": ["1-4","5-30","31-99","100-149","150-534","535-558"], "paddingInner": 0, "paddingOuter": 0.1}},
  "y": {"datum": 1322, "type": "quantitative", "scale": {"domain": [-56, 1056], "nice": false, "zero": false}}, "text": {"field": "post"}}}
]
},
{
"width": 322, "height": 178,
"layer": [
{"data": {"name": "box"}, "transform": [{"filter": "datum.g == 'm' && datum.t == 'wt'"}], "mark": {"type": "rule", "strokeWidth": 1.2, "xOffset": -10.5, "color": "#f4cc43"},
 "encoding": {
  "x": {"field": "c", "type": "nominal", "scale": {"type": "band", "domain": ["1-4","5-30","31-99","100-149","150-534","535-558"], "paddingInner": 0, "paddingOuter": 0.1},
   "axis": {"title": "cell #", "titleAlign": "left", "titleX": -22, "titleY": 15, "titleBaseline": "middle", "titleFontSize": 14, "titleFontWeight": "normal", "titleColor": "#333", "labelAngle": 0, "labelFontSize": 14, "labelBaseline": "top", "labelPadding": 3, "labelLineHeight": 15, "labelOverlap": false, "labelColor": "#333", "tickColor": "#333", "tickSize": 4, "domainColor": "#000", "domainWidth": 1.1,
    "labelExpr": "datum.value == '100-149' ? ['100-', '149'] : datum.value == '150-534' ? ['150 -', '534'] : datum.value == '535-558' ? ['535-', '558'] : datum.label"}},
  "y": {"field": "lo", "type": "quantitative", "scale": {"domain": [-297, 5720], "nice": false, "zero": false},
   "axis": {"values": [0, 2000, 4000], "format": "d", "title": null, "labelFontSize": 14, "labelPadding": 1, "labelColor": "#333", "tickColor": "#333", "tickSize": 4, "domainColor": "#000", "domainWidth": 1.1, "grid": false}},
  "y2": {"field": "hi"}}},
{"data": {"name": "box"}, "transform": [{"filter": "datum.g == 'm' && datum.t == 'del'"}], "mark": {"type": "rule", "strokeWidth": 1.2, "xOffset": 10.5, "color": "#d83f2a"},
 "encoding": {"x": {"field": "c", "type": "nominal", "scale": {"type": "band", "domain": ["1-4","5-30","31-99","100-149","150-534","535-558"], "paddingInner": 0, "paddingOuter": 0.1}},
  "y": {"field": "lo", "type": "quantitative", "scale": {"domain": [-297, 5720], "nice": false, "zero": false}}, "y2": {"field": "hi"}}},
{"data": {"name": "box"}, "transform": [{"filter": "datum.g == 'm' && datum.t == 'wt'"}], "mark": {"type": "rect", "fill": "white", "stroke": "#f4cc43", "strokeWidth": 1.2, "width": 19, "xOffset": -10.5},
 "encoding": {"x": {"field": "c", "type": "nominal", "scale": {"type": "band", "domain": ["1-4","5-30","31-99","100-149","150-534","535-558"], "paddingInner": 0, "paddingOuter": 0.1}},
  "y": {"field": "q1", "type": "quantitative", "scale": {"domain": [-297, 5720], "nice": false, "zero": false}}, "y2": {"field": "q3"}}},
{"data": {"name": "box"}, "transform": [{"filter": "datum.g == 'm' && datum.t == 'del'"}], "mark": {"type": "rect", "fill": "white", "stroke": "#d83f2a", "strokeWidth": 1.2, "width": 19, "xOffset": 10.5},
 "encoding": {"x": {"field": "c", "type": "nominal", "scale": {"type": "band", "domain": ["1-4","5-30","31-99","100-149","150-534","535-558"], "paddingInner": 0, "paddingOuter": 0.1}},
  "y": {"field": "q1", "type": "quantitative", "scale": {"domain": [-297, 5720], "nice": false, "zero": false}}, "y2": {"field": "q3"}}},
{"data": {"name": "box"}, "transform": [{"filter": "datum.g == 'm' && datum.t == 'wt'"}], "mark": {"type": "rect", "fillOpacity": 0, "stroke": "#f4cc43", "strokeWidth": 2, "width": 19, "xOffset": -10.5},
 "encoding": {"x": {"field": "c", "type": "nominal", "scale": {"type": "band", "domain": ["1-4","5-30","31-99","100-149","150-534","535-558"], "paddingInner": 0, "paddingOuter": 0.1}},
  "y": {"field": "md", "type": "quantitative", "scale": {"domain": [-297, 5720], "nice": false, "zero": false}}, "y2": {"field": "md"}}},
{"data": {"name": "box"}, "transform": [{"filter": "datum.g == 'm' && datum.t == 'del'"}], "mark": {"type": "rect", "fillOpacity": 0, "stroke": "#d83f2a", "strokeWidth": 2, "width": 19, "xOffset": 10.5},
 "encoding": {"x": {"field": "c", "type": "nominal", "scale": {"type": "band", "domain": ["1-4","5-30","31-99","100-149","150-534","535-558"], "paddingInner": 0, "paddingOuter": 0.1}},
  "y": {"field": "md", "type": "quantitative", "scale": {"domain": [-297, 5720], "nice": false, "zero": false}}, "y2": {"field": "md"}}},
{"data": {"name": "pts"}, "transform": [{"filter": "datum.g == 'm'"}, {"window": [{"op": "row_number", "as": "rn"}], "groupby": ["c", "t"]}, {"window": [{"op": "percent_rank", "as": "jx"}], "groupby": ["c"], "sort": [{"field": "t", "order": "descending"}, {"field": "rn", "order": "ascending"}]}],
 "mark": {"type": "circle", "size": 22, "opacity": 0.5},
 "encoding": {"x": {"field": "c", "type": "nominal", "scale": {"type": "band", "domain": ["1-4","5-30","31-99","100-149","150-534","535-558"], "paddingInner": 0, "paddingOuter": 0.1}},
  "xOffset": {"field": "jx", "type": "quantitative", "scale": {"domain": [0, 1], "range": [6, 46]}},
  "y": {"field": "v", "type": "quantitative", "scale": {"domain": [-297, 5720], "nice": false, "zero": false}},
  "color": {"field": "t", "type": "nominal", "scale": {"domain": ["wt", "del"], "range": ["#f3cb45", "#d94a30"]}, "legend": null}}},
{"data": {"name": "sig"}, "transform": [{"filter": "datum.g == 'm'"}], "mark": {"type": "rule", "color": "#8c8c8c", "strokeWidth": 1, "xOffset": -8.75},
 "encoding": {"x": {"field": "c", "type": "nominal", "scale": {"type": "band", "domain": ["1-4","5-30","31-99","100-149","150-534","535-558"], "paddingInner": 0, "paddingOuter": 0.1}},
  "y": {"datum": 6106, "type": "quantitative", "scale": {"domain": [-297, 5720], "nice": false, "zero": false}}, "y2": {"datum": 5925}}},
{"data": {"name": "sig"}, "transform": [{"filter": "datum.g == 'm'"}], "mark": {"type": "rule", "color": "#8c8c8c", "strokeWidth": 1, "xOffset": 8.75},
 "encoding": {"x": {"field": "c", "type": "nominal", "scale": {"type": "band", "domain": ["1-4","5-30","31-99","100-149","150-534","535-558"], "paddingInner": 0, "paddingOuter": 0.1}},
  "y": {"datum": 6106, "type": "quantitative", "scale": {"domain": [-297, 5720], "nice": false, "zero": false}}, "y2": {"datum": 5925}}},
{"data": {"name": "sig"}, "transform": [{"filter": "datum.g == 'm'"}], "mark": {"type": "tick", "color": "#8c8c8c", "size": 17.5, "thickness": 1},
 "encoding": {"x": {"field": "c", "type": "nominal", "scale": {"type": "band", "domain": ["1-4","5-30","31-99","100-149","150-534","535-558"], "paddingInner": 0, "paddingOuter": 0.1}},
  "y": {"datum": 6106, "type": "quantitative", "scale": {"domain": [-297, 5720], "nice": false, "zero": false}}}},
{"data": {"name": "sig"}, "transform": [{"filter": "datum.g == 'm'"}], "mark": {"type": "text", "fontSize": 10, "color": "#6e6e6e", "font": "Liberation Sans Narrow, Liberation Sans"},
 "encoding": {"x": {"field": "c", "type": "nominal", "scale": {"type": "band", "domain": ["1-4","5-30","31-99","100-149","150-534","535-558"], "paddingInner": 0, "paddingOuter": 0.1}},
  "y": {"datum": 6345, "type": "quantitative", "scale": {"domain": [-297, 5720], "nice": false, "zero": false}}, "text": {"field": "s"}}},
{"data": {"name": "ttl"}, "transform": [{"filter": "datum.g == 'm'"}], "mark": {"type": "text", "fontSize": 19, "align": "right", "dx": -27.3, "color": "#000"},
 "encoding": {"x": {"datum": "100-149", "type": "nominal", "scale": {"type": "band", "domain": ["1-4","5-30","31-99","100-149","150-534","535-558"], "paddingInner": 0, "paddingOuter": 0.1}},
  "y": {"datum": 7361, "type": "quantitative", "scale": {"domain": [-297, 5720], "nice": false, "zero": false}}, "text": {"field": "pre"}}},
{"data": {"name": "ttl"}, "transform": [{"filter": "datum.g == 'm'"}], "mark": {"type": "text", "fontSize": 19, "align": "left", "fontStyle": "italic", "dx": -22, "color": "#000"},
 "encoding": {"x": {"datum": "100-149", "type": "nominal", "scale": {"type": "band", "domain": ["1-4","5-30","31-99","100-149","150-534","535-558"], "paddingInner": 0, "paddingOuter": 0.1}},
  "y": {"datum": 7361, "type": "quantitative", "scale": {"domain": [-297, 5720], "nice": false, "zero": false}}, "text": {"field": "gene"}}},
{"data": {"name": "ttl"}, "transform": [{"filter": "datum.g == 'm'"}], "mark": {"type": "text", "fontSize": 19, "align": "left", "dx": 37.1, "color": "#000"},
 "encoding": {"x": {"datum": "100-149", "type": "nominal", "scale": {"type": "band", "domain": ["1-4","5-30","31-99","100-149","150-534","535-558"], "paddingInner": 0, "paddingOuter": 0.1}},
  "y": {"datum": 7361, "type": "quantitative", "scale": {"domain": [-297, 5720], "nice": false, "zero": false}}, "text": {"field": "post"}}}
]
}
]
}
]
},
{
"width": 805, "height": 107,
"layer": [
{"data": {"name": "tbl"}, "mark": {"type": "rect", "fillOpacity": 0, "stroke": "#c8c8c8", "strokeWidth": 1, "width": 91.56, "height": 22.8},
 "encoding": {"x": {"field": "c", "type": "nominal", "scale": {"type": "band", "domain": ["name","log2FC","padjusted","wt rep1","wt rep2","wt rep3","del. rep1","del. rep2","del. rep3"], "range": [-19, 805], "paddingInner": 0, "paddingOuter": 0}, "axis": null},
  "y": {"field": "r", "type": "nominal", "scale": {"type": "band", "domain": ["h1","h2","dpy-23","wdr-5.2","mdh-1"], "range": [0, 114], "paddingInner": 0, "paddingOuter": 0}, "axis": null}}},
{"data": {"name": "tbl"}, "transform": [{"filter": "datum.r == 'h1' && (datum.c == 'wt rep2' || datum.c == 'wt rep3' || datum.c == 'del. rep1' || datum.c == 'del. rep2')"}], "mark": {"type": "rect", "fill": "white", "width": 95.5, "height": 20.4},
 "encoding": {"x": {"field": "c", "type": "nominal", "scale": {"type": "band", "domain": ["name","log2FC","padjusted","wt rep1","wt rep2","wt rep3","del. rep1","del. rep2","del. rep3"], "range": [-19, 805], "paddingInner": 0, "paddingOuter": 0}, "axis": null},
  "y": {"field": "r", "type": "nominal", "scale": {"type": "band", "domain": ["h1","h2","dpy-23","wdr-5.2","mdh-1"], "range": [0, 114], "paddingInner": 0, "paddingOuter": 0}, "axis": null}}},
{"data": {"name": "tbl"}, "transform": [{"filter": "datum.r != 'h1' && datum.c != 'name'"}], "mark": {"type": "text", "font": "Lato", "fontSize": 14.5, "color": "#000"},
 "encoding": {"x": {"field": "c", "type": "nominal", "scale": {"type": "band", "domain": ["name","log2FC","padjusted","wt rep1","wt rep2","wt rep3","del. rep1","del. rep2","del. rep3"], "range": [-19, 805], "paddingInner": 0, "paddingOuter": 0}, "axis": null},
  "y": {"field": "r", "type": "nominal", "scale": {"type": "band", "domain": ["h1","h2","dpy-23","wdr-5.2","mdh-1"], "range": [0, 114], "paddingInner": 0, "paddingOuter": 0}, "axis": null}, "text": {"field": "s"}}},
{"data": {"name": "tbl"}, "transform": [{"filter": "datum.r != 'h1' && datum.c == 'name'"}], "mark": {"type": "text", "font": "Lato", "fontSize": 14.5, "fontStyle": "italic", "color": "#000"},
 "encoding": {"x": {"field": "c", "type": "nominal", "scale": {"type": "band", "domain": ["name","log2FC","padjusted","wt rep1","wt rep2","wt rep3","del. rep1","del. rep2","del. rep3"], "range": [-19, 805], "paddingInner": 0, "paddingOuter": 0}, "axis": null},
  "y": {"field": "r", "type": "nominal", "scale": {"type": "band", "domain": ["h1","h2","dpy-23","wdr-5.2","mdh-1"], "range": [0, 114], "paddingInner": 0, "paddingOuter": 0}, "axis": null}, "text": {"field": "s"}}},
{"data": {"name": "tbl"}, "transform": [{"filter": "datum.r == 'h1' && datum.s != ''"}], "mark": {"type": "text", "font": "Lato", "fontSize": 14.5, "color": "#000", "dx": -45.8},
 "encoding": {"x": {"field": "c", "type": "nominal", "scale": {"type": "band", "domain": ["name","log2FC","padjusted","wt rep1","wt rep2","wt rep3","del. rep1","del. rep2","del. rep3"], "range": [-19, 805], "paddingInner": 0, "paddingOuter": 0}, "axis": null},
  "y": {"field": "r", "type": "nominal", "scale": {"type": "band", "domain": ["h1","h2","dpy-23","wdr-5.2","mdh-1"], "range": [0, 114], "paddingInner": 0, "paddingOuter": 0}, "axis": null}, "text": {"field": "s"}}},
{"data": {"name": "panels"}, "transform": [{"filter": "datum.p == 'C)'"}], "mark": {"type": "text", "fontSize": 29, "align": "left", "dx": -103.8, "dy": 5, "color": "#000"},
 "encoding": {"x": {"datum": "name", "type": "nominal", "scale": {"type": "band", "domain": ["name","log2FC","padjusted","wt rep1","wt rep2","wt rep3","del. rep1","del. rep2","del. rep3"], "range": [-19, 805], "paddingInner": 0, "paddingOuter": 0}, "axis": null},
  "y": {"datum": "h1", "type": "nominal", "scale": {"type": "band", "domain": ["h1","h2","dpy-23","wdr-5.2","mdh-1"], "range": [0, 114], "paddingInner": 0, "paddingOuter": 0}, "axis": null}, "text": {"field": "p"}}}
]
}
]
}
